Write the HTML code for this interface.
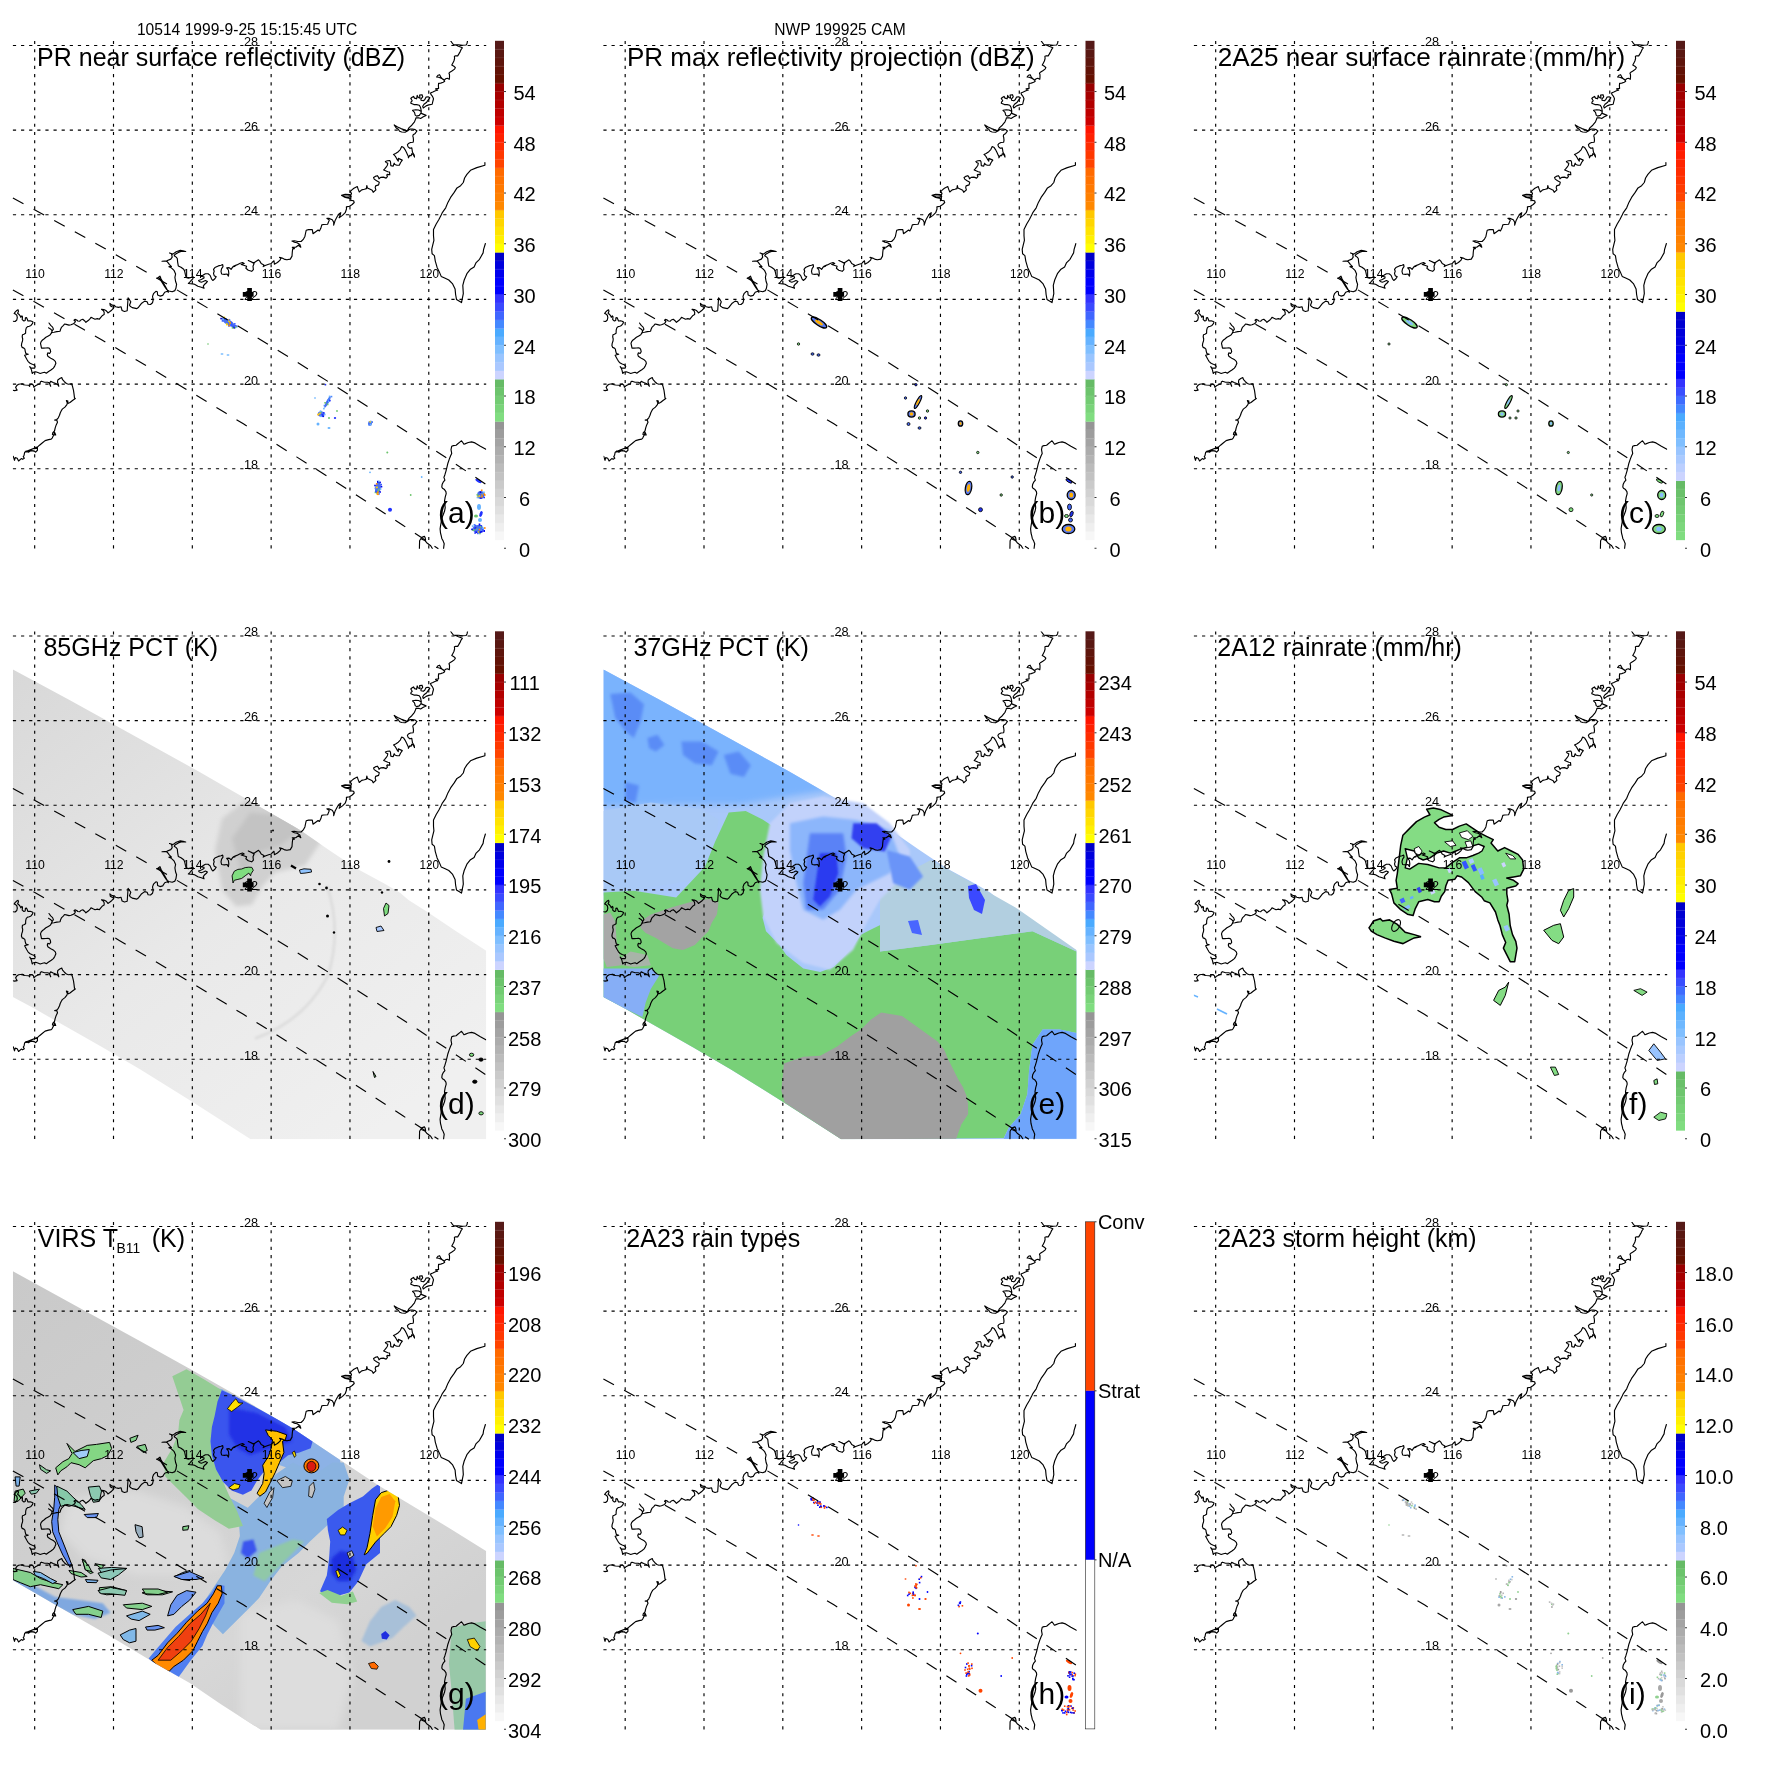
<!DOCTYPE html>
<html><head><meta charset="utf-8"><title>TRMM multi-panel</title><style>html,body{margin:0;padding:0;background:#fff;width:1771px;height:1771px;overflow:hidden}svg{display:block;will-change:transform}text{font-family:"Liberation Sans",sans-serif}</style></head><body>
<svg xmlns="http://www.w3.org/2000/svg" width="1771" height="1771" viewBox="0 0 1771 1771" font-family="Liberation Sans, sans-serif"><rect width="1771" height="1771" fill="#fff"/><defs><filter id="blur1" x="-50%" y="-50%" width="200%" height="200%"><feGaussianBlur stdDeviation="0.5"/></filter>
<filter id="blur2" x="-50%" y="-50%" width="200%" height="200%"><feGaussianBlur stdDeviation="1.0"/></filter>
<filter id="blur3" x="-50%" y="-50%" width="200%" height="200%"><feGaussianBlur stdDeviation="1.5"/></filter>
<filter id="blur4" x="-50%" y="-50%" width="200%" height="200%"><feGaussianBlur stdDeviation="2.0"/></filter>
<filter id="blur6" x="-50%" y="-50%" width="200%" height="200%"><feGaussianBlur stdDeviation="3.0"/></filter>
<filter id="blur8" x="-50%" y="-50%" width="200%" height="200%"><feGaussianBlur stdDeviation="4.0"/></filter>
<clipPath id="mapclip"><rect x="12.9" y="41" width="473.3" height="507.8"/></clipPath>
<g id="grid"><path d="M34.68 41V548.8M113.5 41V548.8M192.32 41V548.8M271.14 41V548.8M349.96 41V548.8M428.78 41V548.8" stroke="#000" stroke-width="1.15" stroke-dasharray="3.1 5.167" fill="none"/>
<path d="M12.9 45.45H486.2M12.9 130.11H486.2M12.9 214.77H486.2M12.9 299.43H486.2M12.9 384.09H486.2M12.9 468.75H486.2" stroke="#000" stroke-width="1.15" stroke-dasharray="3.2 4.92" fill="none"/></g>
<g id="glabels" font-family="Liberation Sans, sans-serif"><text x="35.08" y="278" font-size="12.7" text-anchor="middle" textLength="19.5" lengthAdjust="spacingAndGlyphs">110</text>
<text x="113.9" y="278" font-size="12.7" text-anchor="middle" textLength="19.5" lengthAdjust="spacingAndGlyphs">112</text>
<text x="192.72" y="278" font-size="12.7" text-anchor="middle" textLength="19.5" lengthAdjust="spacingAndGlyphs">114</text>
<text x="271.54" y="278" font-size="12.7" text-anchor="middle" textLength="19.5" lengthAdjust="spacingAndGlyphs">116</text>
<text x="350.36" y="278" font-size="12.7" text-anchor="middle" textLength="19.5" lengthAdjust="spacingAndGlyphs">118</text>
<text x="429.18" y="278" font-size="12.7" text-anchor="middle" textLength="19.5" lengthAdjust="spacingAndGlyphs">120</text>
<text x="251.1" y="45.9" font-size="12.7" text-anchor="middle">28</text>
<text x="251.1" y="130.56" font-size="12.7" text-anchor="middle">26</text>
<text x="251.1" y="215.22" font-size="12.7" text-anchor="middle">24</text>
<text x="251.1" y="299.88" font-size="12.7" text-anchor="middle">22</text>
<text x="251.1" y="384.54" font-size="12.7" text-anchor="middle">20</text>
<text x="251.1" y="469.2" font-size="12.7" text-anchor="middle">18</text></g>
<g id="marker"><path d="M247.2 288.1h4.7v3.9h1.7v4.8h-1.7v4.2h-4.7v-4.2h-4.4v-4.8h4.4z" fill="#000"/></g>
<g id="swath"><path d="M12.90 198.02L32.62 208.64L52.34 219.38L72.06 230.24L91.78 241.21L111.50 252.29L131.22 263.48L150.95 274.79L170.67 286.22L190.39 297.76L210.11 309.41L229.83 321.18L249.55 333.06L269.27 345.06L288.99 357.17L308.71 369.39L328.43 381.73L348.15 394.19L367.87 406.75L387.60 419.43L407.32 432.23L427.04 445.14L446.76 458.16L466.48 471.30L486.20 484.56M12.90 290.00L30.63 299.76L48.36 309.61L66.09 319.55L83.82 329.58L101.55 339.70L119.28 349.91L137.00 360.20L154.73 370.59L172.46 381.06L190.19 391.63L207.92 402.28L225.65 413.02L243.38 423.85L261.11 434.77L278.84 445.77L296.57 456.87L314.30 468.06L332.02 479.33L349.75 490.69L367.48 502.15L385.21 513.69L402.94 525.32L420.67 537.04L438.40 548.84" stroke="#000" stroke-width="1.15" stroke-dasharray="12 11.5" fill="none"/></g>
<g id="coast" clip-path="url(#mapclip)"><path d="M12.8 321.2L15.1 321.5L16.8 320.0L17.3 317.6L16.8 315.2L15.3 313.9L14.1 313.5L15.1 312.2L16.4 310.8L18.1 309.8L18.5 311.3L17.6 313.2L18.8 314.2L20.0 315.6L20.8 317.3L21.9 315.9L22.5 316.9L22.2 319.6L23.9 321.0L25.2 320.5L25.4 317.9L26.6 317.6L27.3 319.3L28.0 321.0L30.0 320.7L31.7 321.3L33.0 322.1L32.4 323.7L31.0 325.4L29.3 326.3L27.6 326.6L26.3 327.8L25.7 330.1L25.6 333.2L23.9 334.2L22.5 334.7L22.2 336.9L22.7 339.0L22.5 341.0L21.7 343.4L21.4 345.6L22.2 347.4L23.9 348.1L24.9 349.1L25.2 351.1L25.9 353.5L28.3 354.2L26.3 354.7L24.6 355.2L25.7 357.2L26.8 359.3L28.0 361.3L29.7 363.0L31.7 364.0L33.7 364.7L35.2 366.4L34.7 368.1L33.0 368.0L31.0 368.1L29.7 366.7L30.7 368.1L31.5 370.1L32.2 373.5L33.4 372.2L35.7 371.8L38.5 372.8L40.2 373.5L42.5 372.7L44.6 372.3L46.3 373.2L48.6 371.5L51.3 369.8L53.4 368.1L54.7 366.1L55.9 363.3L55.3 361.3L53.7 359.8L51.3 358.6L49.3 357.2L47.8 356.2L47.3 354.5L47.8 352.8L49.6 353.5L50.7 351.8L50.3 349.8L49.6 348.4L47.9 347.8L45.9 348.0L43.5 348.1L41.5 348.1L41.0 345.7L40.5 343.4L41.3 341.3L42.5 340.0L43.9 339.0L45.9 337.3L48.3 335.9L50.3 334.7L51.0 333.5L51.9 332.5L54.0 332.2L56.8 331.6L60.1 331.2L60.5 329.5L61.4 327.4L63.5 325.4L64.5 324.0L66.2 324.4L69.0 325.1L71.0 324.7L73.4 323.7L74.7 322.7L75.4 321.3L74.0 320.3L75.0 319.4L76.7 320.0L77.8 321.0L79.8 321.2L80.8 320.0L82.8 319.3L84.5 320.7L85.9 322.3L87.2 321.3L88.9 320.0L90.3 318.3L91.0 317.3L93.0 318.3L95.0 319.2L97.4 318.6L99.4 319.2L100.8 317.3L102.5 315.4L104.1 314.6L104.2 312.5L103.5 310.8L101.5 309.3L103.8 309.5L105.9 310.5L107.2 311.8L107.9 312.9L109.6 311.8L111.6 310.2L113.3 308.5L114.0 307.1L112.0 306.8L110.3 305.7L109.9 303.4L112.0 305.1L114.4 305.4L115.7 306.8L118.4 307.4L121.1 306.8L121.5 308.5L122.1 310.5L124.5 311.5L127.2 310.8L128.1 297.8L130.8 301.8L129.5 305.2L130.2 306.2L132.2 307.6L136.9 308.6L138.6 307.2L141.7 303.2L144.7 301.1L147.1 301.8L148.1 304.2L150.5 304.5L152.5 302.8L153.2 299.8L152.5 296.4L153.5 293.7L155.9 291.3L157.3 291.7L157.6 295.0L160.0 296.1L162.7 295.4L164.7 292.3L167.4 291.3L168.4 292.2L166.8 289.0L164.7 285.2L162.7 281.8L161.0 278.8L160.0 276.1L157.9 277.8L156.6 278.2L159.0 277.8L160.7 280.1L162.7 283.5L164.7 286.6L166.8 289.6L168.8 291.0L172.2 291.7L174.9 290.6L175.9 288.3L176.6 284.2L175.6 281.5L174.9 277.4L175.6 274.0L174.2 270.7L172.2 268.6L170.1 267.1L168.9 266.6L171.5 266.6L169.5 264.6L167.4 261.8L166.1 261.2L162.0 261.2L166.8 260.8L170.8 259.1L172.2 257.1L171.5 253.7L169.5 253.0L172.9 254.1L176.2 251.7L180.3 250.3L183.0 250.7L185.7 251.5L181.7 251.1L178.3 252.4L174.9 254.4L174.2 255.7L176.2 257.1L177.3 258.5L177.6 261.8L178.3 265.9L181.0 267.3L183.7 269.3L184.7 271.3L185.4 274.7L186.1 277.4L188.4 278.1L191.1 277.4L193.2 276.8L192.8 278.8L191.1 280.5L189.8 282.2L188.4 283.5L192.5 283.9L194.5 284.2L197.9 286.2L201.3 287.3L204.0 288.3L203.3 286.2L204.7 284.2L206.7 282.5L207.4 281.5L205.4 280.5L203.3 281.5L201.3 282.2L199.3 281.5L198.6 280.5L201.3 279.5L204.0 278.1L204.0 276.8L201.3 276.4L203.3 275.1L205.4 273.7L208.1 273.7L210.1 275.4L211.5 278.8L212.8 280.5L214.9 278.8L216.2 276.8L214.2 275.7L213.5 273.4L214.2 271.3L213.5 269.3L214.9 267.6L218.3 265.9L221.0 265.2L222.7 264.6L223.0 266.6L221.6 268.6L221.0 271.3L221.6 274.0L224.4 274.4L227.1 274.0L228.4 276.1L228.8 273.4L228.4 270.0L226.7 267.9L229.1 267.6L231.1 269.3L232.8 266.9L235.2 266.3L233.4 266.2L236.8 264.9L240.2 263.2L242.5 262.5L244.2 263.5L241.2 264.5L243.6 265.2L246.6 266.2L245.9 268.3L248.3 270.3L251.7 271.3L253.4 269.6L253.0 266.2L254.1 263.5L251.0 261.8L248.3 260.5L252.4 262.2L254.4 262.5L258.5 259.8L259.8 261.1L261.2 263.5L263.9 264.9L263.2 266.6L265.2 265.5L268.6 264.2L271.3 263.5L272.3 262.2L274.0 260.8L274.4 264.2L277.4 262.5L280.1 260.1L280.8 258.1L279.5 257.4L282.2 258.1L284.9 259.4L286.9 259.8L290.3 259.1L292.0 256.1L292.3 252.0L292.7 248.9L294.4 248.6L292.3 247.2L295.7 247.2L298.4 245.2L300.8 247.2L299.8 244.5L297.1 242.8L294.4 242.2L292.0 241.1L294.4 240.8L297.8 241.5L301.1 241.5L303.5 239.1L304.9 236.4L305.6 233.0L306.2 230.3L308.6 229.6L312.3 229.6L313.0 233.7L315.4 232.0L318.1 230.0L319.4 231.0L320.8 228.3L321.8 224.9L323.5 224.5L327.6 224.2L329.3 220.1L326.9 218.4L328.9 218.4L332.3 219.8L333.7 222.2L333.7 225.2L335.0 220.8L337.1 216.8L339.1 213.7L340.8 212.7L339.8 216.1L339.1 217.8L342.5 215.4L345.2 212.7L346.5 209.0L346.4 206.9L349.5 206.2L352.2 204.5L354.2 202.5L353.6 200.8L350.8 200.4L350.8 197.7L351.2 196.4L348.8 197.1L345.4 196.7L342.0 195.7L344.1 194.7L347.5 195.0L350.8 195.4L351.5 193.3L350.2 191.6L351.9 189.9L353.9 188.3L357.3 186.6L358.3 189.6L359.3 192.0L361.7 189.9L364.4 189.3L366.4 188.6L366.8 185.5L367.4 187.9L370.2 189.3L372.2 190.3L373.2 192.3L375.9 189.9L375.2 187.6L375.6 185.9L378.6 184.9L379.3 182.2L376.6 180.8L374.2 179.1L373.5 177.4L375.2 176.4L377.3 175.7L378.6 177.4L379.0 178.8L380.7 177.4L383.4 177.1L386.1 178.1L387.4 176.7L386.8 175.0L387.4 174.4L389.8 174.7L389.5 172.0L387.8 171.7L386.1 171.0L383.7 170.0L384.7 168.9L386.1 167.2L387.4 165.2L387.8 163.2L386.1 162.5L385.4 161.5L387.4 160.8L389.8 160.5L390.5 161.8L390.8 165.6L393.2 166.2L393.9 163.9L394.2 163.2L394.9 164.5L396.9 165.2L399.3 165.2L400.6 162.5L402.3 160.1L400.0 159.1L398.3 158.4L398.3 161.1L396.9 159.1L395.6 156.7L394.2 155.0L393.5 154.4L395.6 153.4L398.3 151.7L400.3 149.6L401.7 146.6L403.7 147.6L405.0 149.6L406.4 152.3L407.4 154.4L408.4 156.4L408.4 157.8L409.8 155.4L411.1 155.7L411.8 153.7L413.2 154.4L414.5 157.1L414.2 155.0L412.5 152.3L412.2 150.3L411.8 147.9L409.8 148.3L408.1 146.9L407.4 144.9L408.4 143.5L410.5 142.5L413.2 142.2L413.5 140.1L413.2 137.4L412.8 136.1L413.2 134.7L415.2 133.4L416.9 131.0L415.2 129.6L412.5 129.0L410.5 129.0L409.1 129.6L407.8 130.7L405.0 132.3L401.7 132.0L399.6 131.3L398.3 129.3L396.2 127.9L394.2 124.9L397.6 126.9L401.0 128.6L403.7 129.6L406.4 130.7L407.8 130.0L408.8 127.9L411.8 125.2L414.5 121.8L415.6 119.1L415.9 117.8L418.6 117.8L420.6 118.5L423.3 116.8L426.1 115.4L421.3 113.4L421.0 111.3L418.6 110.0L415.9 109.7L412.5 110.3L414.5 112.4L415.2 115.1L416.6 116.1L419.3 115.4L421.0 113.0L421.3 111.0L420.6 107.6L419.3 105.2L416.6 104.6L413.9 104.6L410.8 103.2L411.1 101.9L412.2 100.8L410.8 98.5L411.8 97.5L413.5 96.4L414.5 98.1L416.6 98.8L417.2 95.4L418.3 97.5L420.0 98.1L419.6 95.1L422.0 94.7L422.7 96.8L421.0 98.8L421.0 100.2L423.3 100.8L424.7 99.8L426.1 97.1L428.1 96.8L429.8 97.8L428.1 100.2L426.7 102.2L424.0 104.2L422.7 106.3L423.3 108.0L426.1 105.9L428.8 104.9L432.2 104.2L432.8 101.5L433.5 98.8L432.5 96.4L431.1 94.7L430.5 93.0L432.8 92.0L434.9 91.0L437.6 90.0L437.6 90.2L435.6 88.9L438.6 88.4L438.4 85.9L438.6 83.4L440.7 83.1L443.2 82.3L444.7 81.3L444.2 80.3L442.2 78.8L440.7 76.8L439.6 74.7L438.1 75.2L436.6 77.0L438.6 77.3L441.2 78.3L443.2 79.3L444.2 80.1L445.7 78.8L447.3 78.3L449.3 79.3L449.5 77.3L449.5 74.7L449.0 73.2L450.3 71.9L452.3 70.7L454.6 69.1L455.4 67.6L453.9 66.3L451.8 65.1L452.9 63.0L453.9 61.0L454.6 58.5L454.4 56.2L455.9 55.7L457.7 55.9L458.9 53.9L460.2 51.6L461.2 49.3L462.3 47.8L460.5 47.0L458.4 46.3L456.9 45.5L455.4 45.0L453.4 44.5L452.3 43.2L450.6 40.7M49.0 323.0L50.7 325.4L52.6 327.1L53.4 329.1L52.3 330.8L51.5 332.5M48.5 327.8L50.5 328.9L52.0 330.7M341.5 195.4L345.2 194.3L350.0 194.5M342.5 196.1L345.2 197.4L350.0 198.5M453.4 44.5L458.4 44.8L462.5 45.2L466.1 45.0L467.1 43.2L467.6 40.4M12.8 390.3L14.6 390.6L17.1 390.1L16.1 388.3L15.6 387.3L17.1 385.2L18.6 384.2L22.2 383.7L23.5 384.7L25.2 385.0L28.8 385.2L29.6 386.3L30.1 384.2L31.9 384.0L33.4 385.2L33.9 387.3L35.4 385.8L38.5 384.2L40.0 383.7L40.5 381.7L41.5 381.2L44.6 382.2L47.6 382.2L49.1 382.7L50.7 386.3L49.6 383.2L50.7 381.4L53.2 382.5L55.7 383.5L57.8 384.7L58.8 386.3L58.3 384.2L57.5 382.2L57.8 379.9L59.8 378.6L61.8 377.6L62.6 379.7L64.4 381.7L66.4 383.5L68.4 384.2L71.5 383.7L72.5 386.3L73.5 390.3L74.0 393.9L74.5 397.9L75.3 398.5L72.5 400.5L70.0 402.5L68.4 403.3L66.9 402.0L66.4 400.5L67.9 401.0L66.9 404.6L64.9 407.1L62.3 409.1L61.3 410.7L60.3 412.7L59.5 415.2L58.3 417.8L56.8 419.5L54.7 420.1L56.8 420.3L57.5 422.3L56.2 424.9L55.2 427.9L54.5 431.0L52.7 433.0L52.4 434.5L54.7 435.0L55.7 435.0L54.7 432.5L53.7 435.0L52.2 438.1L51.2 439.1L48.6 439.6L45.1 440.6L42.5 442.7L39.5 445.2L37.4 447.2L37.4 450.3L35.9 451.8L33.9 451.3L31.9 450.5L29.3 451.3L26.8 451.8L25.2 451.8L37.2 447.1L37.5 450.2L35.5 452.2L34.1 450.8L30.7 450.8L28.4 452.2L26.0 451.2L24.6 452.5L24.1 455.2L23.3 456.6L24.3 458.3L22.6 459.3L21.3 458.6L18.6 461.0L17.2 458.3L15.2 457.6L14.5 460.3L13.3 456.3M484.9 162.6L484.9 165.3L476.8 167.6L470.5 170.3L466.9 174.4L464.6 178.0L463.3 182.5L460.6 185.7L457.0 187.9L454.2 192.4L450.6 197.4L447.9 202.4L445.7 207.8L442.5 212.3L441.2 215.0L438.9 219.5L436.2 224.0L433.5 229.5L433.5 235.8L433.9 240.3L432.6 245.7L431.7 249.3L432.1 253.8L434.4 255.6L435.3 261.1L437.1 267.4L439.3 271.9L441.2 276.4L445.2 278.2L448.8 280.0L452.4 283.6L455.1 289.1L455.6 294.5L456.5 299.4L461.5 302.6L462.4 298.1L463.3 293.6L462.8 285.4L464.2 280.0L466.9 273.7L470.5 269.2L474.1 266.9L475.9 262.9L479.5 259.3L483.1 252.9L483.6 249.3L485.4 243.5M485.9 449.3L480.4 446.3L475.0 442.9L471.6 441.9L468.3 442.5L464.9 443.9L463.9 444.2L462.8 442.5L461.5 440.8L460.1 441.9L458.1 443.5L456.1 445.2L453.4 445.6L451.7 446.3L451.0 449.6L451.7 453.4L450.6 455.7L449.3 459.1L447.9 463.2L446.9 467.3L445.9 471.3L444.9 474.7L443.9 477.4L444.9 480.1L443.2 482.2L442.2 484.2L441.8 486.9L442.5 488.3L444.5 489.6L445.9 491.6L446.2 493.7L445.2 497.1L444.5 501.1L444.9 504.5L445.2 507.9L444.5 511.3L443.2 514.7L441.8 518.1L441.2 522.1L440.5 526.2L440.1 528.9L440.5 533.0L441.2 535.7L441.8 538.4L443.2 541.1L444.2 543.8L443.9 545.8L443.5 549.2M419.4 548.8L419.6 540.7L420.8 538.8L421.8 537.4L424.4 536.4L425.2 537.8L425.6 540.2M421.4 539.0L424.8 540.4L426.7 542.7L428.7 544.3L430.7 545.7L432.5 548.8" fill="none" stroke="#000" stroke-width="1.15" stroke-linejoin="round" stroke-linecap="round"/></g>
<g id="cbA"><rect x="495" y="531.34" width="9" height="8.81" fill="#f7f7f7"/><rect x="495" y="522.88" width="9" height="8.81" fill="#efefef"/><rect x="495" y="514.43" width="9" height="8.81" fill="#e8e8e8"/><rect x="495" y="505.97" width="9" height="8.81" fill="#e0e0e0"/><rect x="495" y="497.51" width="9" height="8.81" fill="#d9d9d9"/><rect x="495" y="489.05" width="9" height="8.81" fill="#d1d1d1"/><rect x="495" y="480.6" width="9" height="8.81" fill="#cacaca"/><rect x="495" y="472.14" width="9" height="8.81" fill="#c2c2c2"/><rect x="495" y="463.68" width="9" height="8.81" fill="#bbbbbb"/><rect x="495" y="455.22" width="9" height="8.81" fill="#b3b3b3"/><rect x="495" y="446.77" width="9" height="8.81" fill="#acacac"/><rect x="495" y="438.31" width="9" height="8.81" fill="#a4a4a4"/><rect x="495" y="429.85" width="9" height="8.81" fill="#9d9d9d"/><rect x="495" y="421.39" width="9" height="8.81" fill="#959595"/><rect x="495" y="412.94" width="9" height="8.81" fill="#80dd80"/><rect x="495" y="404.48" width="9" height="8.81" fill="#7ad47a"/><rect x="495" y="396.02" width="9" height="8.81" fill="#73cc73"/><rect x="495" y="387.56" width="9" height="8.81" fill="#6cc46c"/><rect x="495" y="379.11" width="9" height="8.81" fill="#66bb66"/><rect x="495" y="370.65" width="9" height="8.81" fill="#ccd4ff"/><rect x="495" y="362.19" width="9" height="8.81" fill="#aac8ff"/><rect x="495" y="353.73" width="9" height="8.81" fill="#99c5ff"/><rect x="495" y="345.27" width="9" height="8.81" fill="#80bfff"/><rect x="495" y="336.82" width="9" height="8.81" fill="#66b3ff"/><rect x="495" y="328.36" width="9" height="8.81" fill="#4aaaff"/><rect x="495" y="319.9" width="9" height="8.81" fill="#4488ff"/><rect x="495" y="311.44" width="9" height="8.81" fill="#4066ff"/><rect x="495" y="302.99" width="9" height="8.81" fill="#3a4aff"/><rect x="495" y="294.53" width="9" height="8.81" fill="#3333ff"/><rect x="495" y="286.07" width="9" height="8.81" fill="#0000ff"/><rect x="495" y="277.61" width="9" height="8.81" fill="#0000ff"/><rect x="495" y="269.16" width="9" height="8.81" fill="#0000ee"/><rect x="495" y="260.7" width="9" height="8.81" fill="#0000dd"/><rect x="495" y="252.24" width="9" height="8.81" fill="#0000c8"/><rect x="495" y="243.78" width="9" height="8.81" fill="#ffff00"/><rect x="495" y="235.33" width="9" height="8.81" fill="#fff100"/><rect x="495" y="226.87" width="9" height="8.81" fill="#ffe400"/><rect x="495" y="218.41" width="9" height="8.81" fill="#ffd600"/><rect x="495" y="209.95" width="9" height="8.81" fill="#ffc800"/><rect x="495" y="201.49" width="9" height="8.81" fill="#ff8800"/><rect x="495" y="193.04" width="9" height="8.81" fill="#ff8000"/><rect x="495" y="184.58" width="9" height="8.81" fill="#ff7900"/><rect x="495" y="176.12" width="9" height="8.81" fill="#ff7200"/><rect x="495" y="167.66" width="9" height="8.81" fill="#ff6a00"/><rect x="495" y="159.21" width="9" height="8.81" fill="#ff4400"/><rect x="495" y="150.75" width="9" height="8.81" fill="#ff3800"/><rect x="495" y="142.29" width="9" height="8.81" fill="#ff2c00"/><rect x="495" y="133.83" width="9" height="8.81" fill="#ff2100"/><rect x="495" y="125.38" width="9" height="8.81" fill="#ff1500"/><rect x="495" y="116.92" width="9" height="8.81" fill="#cc0000"/><rect x="495" y="108.46" width="9" height="8.81" fill="#bf0000"/><rect x="495" y="100" width="9" height="8.81" fill="#b20000"/><rect x="495" y="91.55" width="9" height="8.81" fill="#a60000"/><rect x="495" y="83.09" width="9" height="8.81" fill="#990000"/><rect x="495" y="74.63" width="9" height="8.81" fill="#661000"/><rect x="495" y="66.17" width="9" height="8.81" fill="#621206"/><rect x="495" y="57.72" width="9" height="8.81" fill="#5e150c"/><rect x="495" y="49.26" width="9" height="8.81" fill="#591812"/><rect x="495" y="40.8" width="9" height="8.81" fill="#551a18"/><path d="M495 531.34H504" stroke="#fff" stroke-opacity="0.13" stroke-width="0.7"/><path d="M495 522.88H504" stroke="#fff" stroke-opacity="0.13" stroke-width="0.7"/><path d="M495 514.43H504" stroke="#fff" stroke-opacity="0.13" stroke-width="0.7"/><path d="M495 505.97H504" stroke="#fff" stroke-opacity="0.13" stroke-width="0.7"/><path d="M495 497.51H504" stroke="#fff" stroke-opacity="0.13" stroke-width="0.7"/><path d="M495 489.05H504" stroke="#fff" stroke-opacity="0.13" stroke-width="0.7"/><path d="M495 480.6H504" stroke="#fff" stroke-opacity="0.13" stroke-width="0.7"/><path d="M495 472.14H504" stroke="#fff" stroke-opacity="0.13" stroke-width="0.7"/><path d="M495 463.68H504" stroke="#fff" stroke-opacity="0.13" stroke-width="0.7"/><path d="M495 455.22H504" stroke="#fff" stroke-opacity="0.13" stroke-width="0.7"/><path d="M495 446.77H504" stroke="#fff" stroke-opacity="0.13" stroke-width="0.7"/><path d="M495 438.31H504" stroke="#fff" stroke-opacity="0.13" stroke-width="0.7"/><path d="M495 429.85H504" stroke="#fff" stroke-opacity="0.13" stroke-width="0.7"/><path d="M495 421.39H504" stroke="#fff" stroke-opacity="0.13" stroke-width="0.7"/><path d="M495 412.94H504" stroke="#fff" stroke-opacity="0.13" stroke-width="0.7"/><path d="M495 404.48H504" stroke="#fff" stroke-opacity="0.13" stroke-width="0.7"/><path d="M495 396.02H504" stroke="#fff" stroke-opacity="0.13" stroke-width="0.7"/><path d="M495 387.56H504" stroke="#fff" stroke-opacity="0.13" stroke-width="0.7"/><path d="M495 379.11H504" stroke="#fff" stroke-opacity="0.13" stroke-width="0.7"/><path d="M495 370.65H504" stroke="#fff" stroke-opacity="0.13" stroke-width="0.7"/><path d="M495 362.19H504" stroke="#fff" stroke-opacity="0.13" stroke-width="0.7"/><path d="M495 353.73H504" stroke="#fff" stroke-opacity="0.13" stroke-width="0.7"/><path d="M495 345.27H504" stroke="#fff" stroke-opacity="0.13" stroke-width="0.7"/><path d="M495 336.82H504" stroke="#fff" stroke-opacity="0.13" stroke-width="0.7"/><path d="M495 328.36H504" stroke="#fff" stroke-opacity="0.13" stroke-width="0.7"/><path d="M495 319.9H504" stroke="#fff" stroke-opacity="0.13" stroke-width="0.7"/><path d="M495 311.44H504" stroke="#fff" stroke-opacity="0.13" stroke-width="0.7"/><path d="M495 302.99H504" stroke="#fff" stroke-opacity="0.13" stroke-width="0.7"/><path d="M495 294.53H504" stroke="#fff" stroke-opacity="0.13" stroke-width="0.7"/><path d="M495 286.07H504" stroke="#fff" stroke-opacity="0.13" stroke-width="0.7"/><path d="M495 277.61H504" stroke="#fff" stroke-opacity="0.13" stroke-width="0.7"/><path d="M495 269.16H504" stroke="#fff" stroke-opacity="0.13" stroke-width="0.7"/><path d="M495 260.7H504" stroke="#fff" stroke-opacity="0.13" stroke-width="0.7"/><path d="M495 252.24H504" stroke="#fff" stroke-opacity="0.13" stroke-width="0.7"/><path d="M495 243.78H504" stroke="#fff" stroke-opacity="0.13" stroke-width="0.7"/><path d="M495 235.33H504" stroke="#fff" stroke-opacity="0.13" stroke-width="0.7"/><path d="M495 226.87H504" stroke="#fff" stroke-opacity="0.13" stroke-width="0.7"/><path d="M495 218.41H504" stroke="#fff" stroke-opacity="0.13" stroke-width="0.7"/><path d="M495 209.95H504" stroke="#fff" stroke-opacity="0.13" stroke-width="0.7"/><path d="M495 201.49H504" stroke="#fff" stroke-opacity="0.13" stroke-width="0.7"/><path d="M495 193.04H504" stroke="#fff" stroke-opacity="0.13" stroke-width="0.7"/><path d="M495 184.58H504" stroke="#fff" stroke-opacity="0.13" stroke-width="0.7"/><path d="M495 176.12H504" stroke="#fff" stroke-opacity="0.13" stroke-width="0.7"/><path d="M495 167.66H504" stroke="#fff" stroke-opacity="0.13" stroke-width="0.7"/><path d="M495 159.21H504" stroke="#fff" stroke-opacity="0.13" stroke-width="0.7"/><path d="M495 150.75H504" stroke="#fff" stroke-opacity="0.13" stroke-width="0.7"/><path d="M495 142.29H504" stroke="#fff" stroke-opacity="0.13" stroke-width="0.7"/><path d="M495 133.83H504" stroke="#fff" stroke-opacity="0.13" stroke-width="0.7"/><path d="M495 125.38H504" stroke="#fff" stroke-opacity="0.13" stroke-width="0.7"/><path d="M495 116.92H504" stroke="#fff" stroke-opacity="0.13" stroke-width="0.7"/><path d="M495 108.46H504" stroke="#fff" stroke-opacity="0.13" stroke-width="0.7"/><path d="M495 100H504" stroke="#fff" stroke-opacity="0.13" stroke-width="0.7"/><path d="M495 91.55H504" stroke="#fff" stroke-opacity="0.13" stroke-width="0.7"/><path d="M495 83.09H504" stroke="#fff" stroke-opacity="0.13" stroke-width="0.7"/><path d="M495 74.63H504" stroke="#fff" stroke-opacity="0.13" stroke-width="0.7"/><path d="M495 66.17H504" stroke="#fff" stroke-opacity="0.13" stroke-width="0.7"/><path d="M495 57.72H504" stroke="#fff" stroke-opacity="0.13" stroke-width="0.7"/><path d="M495 49.26H504" stroke="#fff" stroke-opacity="0.13" stroke-width="0.7"/><path d="M504 548.26h2" stroke="#333" stroke-width="1"/><path d="M504 497.51h2" stroke="#333" stroke-width="1"/><path d="M504 446.77h2" stroke="#333" stroke-width="1"/><path d="M504 396.02h2" stroke="#333" stroke-width="1"/><path d="M504 345.27h2" stroke="#333" stroke-width="1"/><path d="M504 294.53h2" stroke="#333" stroke-width="1"/><path d="M504 243.78h2" stroke="#333" stroke-width="1"/><path d="M504 193.04h2" stroke="#333" stroke-width="1"/><path d="M504 142.29h2" stroke="#333" stroke-width="1"/><path d="M504 91.55h2" stroke="#333" stroke-width="1"/></g>
<g id="cbC"><rect x="495" y="531.34" width="9" height="8.81" fill="#80dd80"/><rect x="495" y="522.88" width="9" height="8.81" fill="#7cd77c"/><rect x="495" y="514.43" width="9" height="8.81" fill="#77d277"/><rect x="495" y="505.97" width="9" height="8.81" fill="#73cc73"/><rect x="495" y="497.51" width="9" height="8.81" fill="#6fc66f"/><rect x="495" y="489.05" width="9" height="8.81" fill="#6ac16a"/><rect x="495" y="480.6" width="9" height="8.81" fill="#66bb66"/><rect x="495" y="472.14" width="9" height="8.81" fill="#ccd4ff"/><rect x="495" y="463.68" width="9" height="8.81" fill="#bbcfff"/><rect x="495" y="455.22" width="9" height="8.81" fill="#aacaff"/><rect x="495" y="446.77" width="9" height="8.81" fill="#99c5ff"/><rect x="495" y="438.31" width="9" height="8.81" fill="#80bfff"/><rect x="495" y="429.85" width="9" height="8.81" fill="#6eb8ff"/><rect x="495" y="421.39" width="9" height="8.81" fill="#5cb1ff"/><rect x="495" y="412.94" width="9" height="8.81" fill="#4aaaff"/><rect x="495" y="404.48" width="9" height="8.81" fill="#4488ff"/><rect x="495" y="396.02" width="9" height="8.81" fill="#3e6cff"/><rect x="495" y="387.56" width="9" height="8.81" fill="#394fff"/><rect x="495" y="379.11" width="9" height="8.81" fill="#3333ff"/><rect x="495" y="370.65" width="9" height="8.81" fill="#0000ff"/><rect x="495" y="362.19" width="9" height="8.81" fill="#0000ff"/><rect x="495" y="353.73" width="9" height="8.81" fill="#0000ff"/><rect x="495" y="345.27" width="9" height="8.81" fill="#0000ee"/><rect x="495" y="336.82" width="9" height="8.81" fill="#0000e4"/><rect x="495" y="328.36" width="9" height="8.81" fill="#0000db"/><rect x="495" y="319.9" width="9" height="8.81" fill="#0000d2"/><rect x="495" y="311.44" width="9" height="8.81" fill="#0000c8"/><rect x="495" y="302.99" width="9" height="8.81" fill="#ffff00"/><rect x="495" y="294.53" width="9" height="8.81" fill="#fff600"/><rect x="495" y="286.07" width="9" height="8.81" fill="#ffed00"/><rect x="495" y="277.61" width="9" height="8.81" fill="#ffe400"/><rect x="495" y="269.16" width="9" height="8.81" fill="#ffda00"/><rect x="495" y="260.7" width="9" height="8.81" fill="#ffd100"/><rect x="495" y="252.24" width="9" height="8.81" fill="#ffc800"/><rect x="495" y="243.78" width="9" height="8.81" fill="#ff8800"/><rect x="495" y="235.33" width="9" height="8.81" fill="#ff8200"/><rect x="495" y="226.87" width="9" height="8.81" fill="#ff7c00"/><rect x="495" y="218.41" width="9" height="8.81" fill="#ff7600"/><rect x="495" y="209.95" width="9" height="8.81" fill="#ff7000"/><rect x="495" y="201.49" width="9" height="8.81" fill="#ff6a00"/><rect x="495" y="193.04" width="9" height="8.81" fill="#ff4400"/><rect x="495" y="184.58" width="9" height="8.81" fill="#ff3c00"/><rect x="495" y="176.12" width="9" height="8.81" fill="#ff3400"/><rect x="495" y="167.66" width="9" height="8.81" fill="#ff2c00"/><rect x="495" y="159.21" width="9" height="8.81" fill="#ff2500"/><rect x="495" y="150.75" width="9" height="8.81" fill="#ff1d00"/><rect x="495" y="142.29" width="9" height="8.81" fill="#ff1500"/><rect x="495" y="133.83" width="9" height="8.81" fill="#cc0000"/><rect x="495" y="125.38" width="9" height="8.81" fill="#c40000"/><rect x="495" y="116.92" width="9" height="8.81" fill="#bb0000"/><rect x="495" y="108.46" width="9" height="8.81" fill="#b20000"/><rect x="495" y="100" width="9" height="8.81" fill="#aa0000"/><rect x="495" y="91.55" width="9" height="8.81" fill="#a20000"/><rect x="495" y="83.09" width="9" height="8.81" fill="#990000"/><rect x="495" y="74.63" width="9" height="8.81" fill="#661000"/><rect x="495" y="66.17" width="9" height="8.81" fill="#621206"/><rect x="495" y="57.72" width="9" height="8.81" fill="#5e150c"/><rect x="495" y="49.26" width="9" height="8.81" fill="#591812"/><rect x="495" y="40.8" width="9" height="8.81" fill="#551a18"/><path d="M495 531.34H504" stroke="#fff" stroke-opacity="0.13" stroke-width="0.7"/><path d="M495 522.88H504" stroke="#fff" stroke-opacity="0.13" stroke-width="0.7"/><path d="M495 514.43H504" stroke="#fff" stroke-opacity="0.13" stroke-width="0.7"/><path d="M495 505.97H504" stroke="#fff" stroke-opacity="0.13" stroke-width="0.7"/><path d="M495 497.51H504" stroke="#fff" stroke-opacity="0.13" stroke-width="0.7"/><path d="M495 489.05H504" stroke="#fff" stroke-opacity="0.13" stroke-width="0.7"/><path d="M495 480.6H504" stroke="#fff" stroke-opacity="0.13" stroke-width="0.7"/><path d="M495 472.14H504" stroke="#fff" stroke-opacity="0.13" stroke-width="0.7"/><path d="M495 463.68H504" stroke="#fff" stroke-opacity="0.13" stroke-width="0.7"/><path d="M495 455.22H504" stroke="#fff" stroke-opacity="0.13" stroke-width="0.7"/><path d="M495 446.77H504" stroke="#fff" stroke-opacity="0.13" stroke-width="0.7"/><path d="M495 438.31H504" stroke="#fff" stroke-opacity="0.13" stroke-width="0.7"/><path d="M495 429.85H504" stroke="#fff" stroke-opacity="0.13" stroke-width="0.7"/><path d="M495 421.39H504" stroke="#fff" stroke-opacity="0.13" stroke-width="0.7"/><path d="M495 412.94H504" stroke="#fff" stroke-opacity="0.13" stroke-width="0.7"/><path d="M495 404.48H504" stroke="#fff" stroke-opacity="0.13" stroke-width="0.7"/><path d="M495 396.02H504" stroke="#fff" stroke-opacity="0.13" stroke-width="0.7"/><path d="M495 387.56H504" stroke="#fff" stroke-opacity="0.13" stroke-width="0.7"/><path d="M495 379.11H504" stroke="#fff" stroke-opacity="0.13" stroke-width="0.7"/><path d="M495 370.65H504" stroke="#fff" stroke-opacity="0.13" stroke-width="0.7"/><path d="M495 362.19H504" stroke="#fff" stroke-opacity="0.13" stroke-width="0.7"/><path d="M495 353.73H504" stroke="#fff" stroke-opacity="0.13" stroke-width="0.7"/><path d="M495 345.27H504" stroke="#fff" stroke-opacity="0.13" stroke-width="0.7"/><path d="M495 336.82H504" stroke="#fff" stroke-opacity="0.13" stroke-width="0.7"/><path d="M495 328.36H504" stroke="#fff" stroke-opacity="0.13" stroke-width="0.7"/><path d="M495 319.9H504" stroke="#fff" stroke-opacity="0.13" stroke-width="0.7"/><path d="M495 311.44H504" stroke="#fff" stroke-opacity="0.13" stroke-width="0.7"/><path d="M495 302.99H504" stroke="#fff" stroke-opacity="0.13" stroke-width="0.7"/><path d="M495 294.53H504" stroke="#fff" stroke-opacity="0.13" stroke-width="0.7"/><path d="M495 286.07H504" stroke="#fff" stroke-opacity="0.13" stroke-width="0.7"/><path d="M495 277.61H504" stroke="#fff" stroke-opacity="0.13" stroke-width="0.7"/><path d="M495 269.16H504" stroke="#fff" stroke-opacity="0.13" stroke-width="0.7"/><path d="M495 260.7H504" stroke="#fff" stroke-opacity="0.13" stroke-width="0.7"/><path d="M495 252.24H504" stroke="#fff" stroke-opacity="0.13" stroke-width="0.7"/><path d="M495 243.78H504" stroke="#fff" stroke-opacity="0.13" stroke-width="0.7"/><path d="M495 235.33H504" stroke="#fff" stroke-opacity="0.13" stroke-width="0.7"/><path d="M495 226.87H504" stroke="#fff" stroke-opacity="0.13" stroke-width="0.7"/><path d="M495 218.41H504" stroke="#fff" stroke-opacity="0.13" stroke-width="0.7"/><path d="M495 209.95H504" stroke="#fff" stroke-opacity="0.13" stroke-width="0.7"/><path d="M495 201.49H504" stroke="#fff" stroke-opacity="0.13" stroke-width="0.7"/><path d="M495 193.04H504" stroke="#fff" stroke-opacity="0.13" stroke-width="0.7"/><path d="M495 184.58H504" stroke="#fff" stroke-opacity="0.13" stroke-width="0.7"/><path d="M495 176.12H504" stroke="#fff" stroke-opacity="0.13" stroke-width="0.7"/><path d="M495 167.66H504" stroke="#fff" stroke-opacity="0.13" stroke-width="0.7"/><path d="M495 159.21H504" stroke="#fff" stroke-opacity="0.13" stroke-width="0.7"/><path d="M495 150.75H504" stroke="#fff" stroke-opacity="0.13" stroke-width="0.7"/><path d="M495 142.29H504" stroke="#fff" stroke-opacity="0.13" stroke-width="0.7"/><path d="M495 133.83H504" stroke="#fff" stroke-opacity="0.13" stroke-width="0.7"/><path d="M495 125.38H504" stroke="#fff" stroke-opacity="0.13" stroke-width="0.7"/><path d="M495 116.92H504" stroke="#fff" stroke-opacity="0.13" stroke-width="0.7"/><path d="M495 108.46H504" stroke="#fff" stroke-opacity="0.13" stroke-width="0.7"/><path d="M495 100H504" stroke="#fff" stroke-opacity="0.13" stroke-width="0.7"/><path d="M495 91.55H504" stroke="#fff" stroke-opacity="0.13" stroke-width="0.7"/><path d="M495 83.09H504" stroke="#fff" stroke-opacity="0.13" stroke-width="0.7"/><path d="M495 74.63H504" stroke="#fff" stroke-opacity="0.13" stroke-width="0.7"/><path d="M495 66.17H504" stroke="#fff" stroke-opacity="0.13" stroke-width="0.7"/><path d="M495 57.72H504" stroke="#fff" stroke-opacity="0.13" stroke-width="0.7"/><path d="M495 49.26H504" stroke="#fff" stroke-opacity="0.13" stroke-width="0.7"/><path d="M504 548.26h2" stroke="#333" stroke-width="1"/><path d="M504 497.51h2" stroke="#333" stroke-width="1"/><path d="M504 446.77h2" stroke="#333" stroke-width="1"/><path d="M504 396.02h2" stroke="#333" stroke-width="1"/><path d="M504 345.27h2" stroke="#333" stroke-width="1"/><path d="M504 294.53h2" stroke="#333" stroke-width="1"/><path d="M504 243.78h2" stroke="#333" stroke-width="1"/><path d="M504 193.04h2" stroke="#333" stroke-width="1"/><path d="M504 142.29h2" stroke="#333" stroke-width="1"/><path d="M504 91.55h2" stroke="#333" stroke-width="1"/></g></defs>
<text x="136.9" y="34.9" font-size="15.6" textLength="220.39" lengthAdjust="spacingAndGlyphs">10514 1999-9-25 15:15:45 UTC</text>
<text x="840" y="34.9" font-size="15.6" text-anchor="middle">NWP 199925 CAM</text>
<g transform="translate(0 0)">
<g clip-path="url(#mapclip)"><ellipse cx="228.5" cy="322.5" rx="8.0" ry="2.6" fill="#4a70f0" transform="rotate(33 228.5 322.5)"/><rect x="232.6" y="326.8" width="1.6" height="1.6" fill="#6cc46c"/><rect x="226.0" y="323.8" width="1.6" height="1.6" fill="#ffdd00"/><rect x="236.0" y="326.0" width="1.6" height="1.6" fill="#66b3ff"/><rect x="228.5" y="320.6" width="1.6" height="1.6" fill="#2233ff"/><rect x="230.6" y="321.7" width="1.6" height="1.6" fill="#3355ff"/><rect x="235.1" y="325.1" width="1.6" height="1.6" fill="#2233ff"/><rect x="233.7" y="327.0" width="1.6" height="1.6" fill="#0000cc"/><rect x="229.2" y="321.6" width="1.6" height="1.6" fill="#ff8800"/><rect x="228.1" y="325.1" width="1.6" height="1.6" fill="#3355ff"/><rect x="226.0" y="323.4" width="1.6" height="1.6" fill="#ffdd00"/><rect x="232.7" y="326.5" width="1.6" height="1.6" fill="#0000ee"/><rect x="228.4" y="324.7" width="1.6" height="1.6" fill="#ff8800"/><rect x="224.0" y="318.0" width="1.6" height="1.6" fill="#2233ff"/><rect x="222.3" y="318.7" width="1.6" height="1.6" fill="#66b3ff"/><rect x="234.0" y="323.1" width="1.6" height="1.6" fill="#3355ff"/><rect x="228.3" y="318.9" width="1.6" height="1.6" fill="#ff8800"/><rect x="228.2" y="320.5" width="1.6" height="1.6" fill="#ffdd00"/><rect x="231.0" y="324.2" width="1.6" height="1.6" fill="#3355ff"/><rect x="221.7" y="320.1" width="1.6" height="1.6" fill="#3355ff"/><rect x="229.4" y="322.4" width="1.6" height="1.6" fill="#6cc46c"/><rect x="225.5" y="318.3" width="1.6" height="1.6" fill="#4a88ff"/><rect x="223.6" y="316.6" width="1.6" height="1.6" fill="#ffdd00"/><rect x="228.7" y="319.2" width="1.6" height="1.6" fill="#4a88ff"/><rect x="234.7" y="326.5" width="1.6" height="1.6" fill="#6cc46c"/><rect x="233.3" y="325.5" width="1.6" height="1.6" fill="#3355ff"/><rect x="231.7" y="327.0" width="1.6" height="1.6" fill="#6cc46c"/><rect x="229.2" y="322.3" width="1.6" height="1.6" fill="#ff8800"/><rect x="220.3" y="317.8" width="1.6" height="1.6" fill="#0000cc"/><ellipse cx="208.0" cy="344.0" rx="0.8" ry="0.8" fill="#6cc46c" transform="rotate(0 208.0 344.0)"/><ellipse cx="222.0" cy="354.0" rx="1.5" ry="0.8" fill="#66b3ff" transform="rotate(0 222.0 354.0)"/><ellipse cx="228.0" cy="355.0" rx="1.5" ry="0.8" fill="#66b3ff" transform="rotate(0 228.0 355.0)"/><ellipse cx="325.4" cy="384.7" rx="0.9" ry="0.9" fill="#2233ff" transform="rotate(0 325.4 384.7)"/><ellipse cx="327.5" cy="402.0" rx="6.4" ry="1.4" fill="#4a70f0" transform="rotate(-62 327.5 402.0)"/><rect x="328.4" y="399.9" width="1.6" height="1.6" fill="#3355ff"/><rect x="323.1" y="407.8" width="1.6" height="1.6" fill="#66b3ff"/><rect x="329.1" y="399.8" width="1.6" height="1.6" fill="#2233ff"/><rect x="326.9" y="403.6" width="1.6" height="1.6" fill="#6cc46c"/><rect x="327.3" y="400.7" width="1.6" height="1.6" fill="#0000ee"/><rect x="328.1" y="397.8" width="1.6" height="1.6" fill="#4a88ff"/><rect x="330.7" y="395.8" width="1.6" height="1.6" fill="#4a88ff"/><rect x="327.4" y="399.4" width="1.6" height="1.6" fill="#4a88ff"/><rect x="323.6" y="404.8" width="1.6" height="1.6" fill="#4a88ff"/><rect x="328.8" y="395.6" width="1.6" height="1.6" fill="#66b3ff"/><rect x="327.6" y="400.9" width="1.6" height="1.6" fill="#66b3ff"/><rect x="324.3" y="402.0" width="1.6" height="1.6" fill="#6cc46c"/><ellipse cx="321.0" cy="414.0" rx="3.2" ry="2.8" fill="#4a70f0" transform="rotate(0 321.0 414.0)"/><rect x="322.5" y="415.5" width="1.6" height="1.6" fill="#0000cc"/><rect x="317.4" y="413.8" width="1.6" height="1.6" fill="#ff8800"/><rect x="320.1" y="411.1" width="1.6" height="1.6" fill="#6cc46c"/><rect x="323.5" y="413.5" width="1.6" height="1.6" fill="#2233ff"/><rect x="317.7" y="413.6" width="1.6" height="1.6" fill="#ffdd00"/><rect x="321.5" y="414.0" width="1.6" height="1.6" fill="#2233ff"/><rect x="323.0" y="412.0" width="1.6" height="1.6" fill="#2233ff"/><rect x="319.1" y="412.6" width="1.6" height="1.6" fill="#ffdd00"/><rect x="319.8" y="410.4" width="1.6" height="1.6" fill="#66b3ff"/><rect x="321.8" y="415.3" width="1.6" height="1.6" fill="#2233ff"/><rect x="323.8" y="413.8" width="1.6" height="1.6" fill="#66b3ff"/><rect x="320.1" y="415.5" width="1.6" height="1.6" fill="#66b3ff"/><ellipse cx="318.0" cy="424.0" rx="1.5" ry="1.5" fill="#66b3ff" transform="rotate(0 318.0 424.0)"/><ellipse cx="329.0" cy="418.0" rx="1.0" ry="1.0" fill="#6cc46c" transform="rotate(0 329.0 418.0)"/><ellipse cx="335.0" cy="418.0" rx="1.2" ry="1.0" fill="#2233ff" transform="rotate(0 335.0 418.0)"/><ellipse cx="329.0" cy="428.0" rx="1.5" ry="1.0" fill="#66b3ff" transform="rotate(0 329.0 428.0)"/><ellipse cx="337.0" cy="411.0" rx="0.9" ry="0.9" fill="#6cc46c" transform="rotate(0 337.0 411.0)"/><ellipse cx="315.0" cy="398.0" rx="1.0" ry="0.8" fill="#66b3ff" transform="rotate(0 315.0 398.0)"/><ellipse cx="370.0" cy="423.5" rx="2.0" ry="2.4" fill="#4a70f0" transform="rotate(0 370.0 423.5)"/><rect x="368.0" y="423.8" width="1.6" height="1.6" fill="#4a88ff"/><rect x="370.0" y="423.7" width="1.6" height="1.6" fill="#66b3ff"/><rect x="369.9" y="420.8" width="1.6" height="1.6" fill="#2233ff"/><rect x="369.4" y="421.0" width="1.6" height="1.6" fill="#ffdd00"/><rect x="371.1" y="421.3" width="1.6" height="1.6" fill="#0000cc"/><rect x="370.7" y="421.2" width="1.6" height="1.6" fill="#66b3ff"/><ellipse cx="387.3" cy="452.5" rx="1.0" ry="1.0" fill="#6cc46c" transform="rotate(0 387.3 452.5)"/><ellipse cx="370.0" cy="472.3" rx="0.9" ry="0.9" fill="#66b3ff" transform="rotate(0 370.0 472.3)"/><ellipse cx="421.7" cy="477.0" rx="0.9" ry="0.9" fill="#66b3ff" transform="rotate(0 421.7 477.0)"/><ellipse cx="378.0" cy="488.0" rx="2.8" ry="6.0" fill="#4a70f0" transform="rotate(10 378.0 488.0)"/><rect x="376.6" y="491.8" width="1.6" height="1.6" fill="#ff8800"/><rect x="375.1" y="490.9" width="1.6" height="1.6" fill="#3355ff"/><rect x="379.3" y="481.6" width="1.6" height="1.6" fill="#0000ee"/><rect x="374.6" y="491.6" width="1.6" height="1.6" fill="#6cc46c"/><rect x="375.5" y="486.9" width="1.6" height="1.6" fill="#ff8800"/><rect x="377.7" y="490.1" width="1.6" height="1.6" fill="#6cc46c"/><rect x="374.6" y="487.5" width="1.6" height="1.6" fill="#4a88ff"/><rect x="378.4" y="493.1" width="1.6" height="1.6" fill="#4a88ff"/><rect x="379.8" y="488.2" width="1.6" height="1.6" fill="#66b3ff"/><rect x="377.0" y="481.4" width="1.6" height="1.6" fill="#2233ff"/><rect x="377.0" y="480.8" width="1.6" height="1.6" fill="#0000cc"/><rect x="377.9" y="488.8" width="1.6" height="1.6" fill="#6cc46c"/><rect x="374.2" y="484.7" width="1.6" height="1.6" fill="#0000ee"/><rect x="379.3" y="491.2" width="1.6" height="1.6" fill="#0000ee"/><rect x="380.7" y="485.9" width="1.6" height="1.6" fill="#0000ee"/><rect x="380.4" y="483.8" width="1.6" height="1.6" fill="#3355ff"/><rect x="375.9" y="483.1" width="1.6" height="1.6" fill="#ff8800"/><rect x="375.0" y="490.6" width="1.6" height="1.6" fill="#3355ff"/><rect x="376.4" y="493.2" width="1.6" height="1.6" fill="#ffdd00"/><rect x="377.2" y="493.5" width="1.6" height="1.6" fill="#ff8800"/><rect x="377.0" y="491.5" width="1.6" height="1.6" fill="#ff8800"/><rect x="376.2" y="486.5" width="1.6" height="1.6" fill="#ffdd00"/><rect x="378.2" y="480.6" width="1.6" height="1.6" fill="#66b3ff"/><ellipse cx="410.7" cy="495.0" rx="0.9" ry="0.9" fill="#6cc46c" transform="rotate(0 410.7 495.0)"/><ellipse cx="390.0" cy="509.7" rx="2.0" ry="2.0" fill="#2233ff" transform="rotate(0 390.0 509.7)"/><ellipse cx="478.5" cy="481.0" rx="3.5" ry="1.3" fill="#2233ff" transform="rotate(30 478.5 481.0)"/><ellipse cx="480.7" cy="495.0" rx="3.6" ry="4.0" fill="#4a70f0" transform="rotate(0 480.7 495.0)"/><rect x="476.9" y="496.1" width="1.6" height="1.6" fill="#ffdd00"/><rect x="479.7" y="491.4" width="1.6" height="1.6" fill="#0000cc"/><rect x="482.7" y="494.3" width="1.6" height="1.6" fill="#3355ff"/><rect x="480.1" y="497.1" width="1.6" height="1.6" fill="#0000ee"/><rect x="478.7" y="495.1" width="1.6" height="1.6" fill="#2233ff"/><rect x="476.7" y="496.7" width="1.6" height="1.6" fill="#66b3ff"/><rect x="481.6" y="493.6" width="1.6" height="1.6" fill="#6cc46c"/><rect x="480.9" y="489.5" width="1.6" height="1.6" fill="#ff8800"/><rect x="480.3" y="496.1" width="1.6" height="1.6" fill="#ff8800"/><rect x="482.0" y="493.2" width="1.6" height="1.6" fill="#4a88ff"/><rect x="483.2" y="491.5" width="1.6" height="1.6" fill="#66b3ff"/><rect x="483.4" y="496.7" width="1.6" height="1.6" fill="#2233ff"/><rect x="476.5" y="494.0" width="1.6" height="1.6" fill="#6cc46c"/><rect x="483.4" y="493.3" width="1.6" height="1.6" fill="#ff8800"/><rect x="484.0" y="494.2" width="1.6" height="1.6" fill="#ff8800"/><rect x="479.9" y="494.1" width="1.6" height="1.6" fill="#3355ff"/><rect x="480.8" y="494.4" width="1.6" height="1.6" fill="#ff8800"/><rect x="480.4" y="495.4" width="1.6" height="1.6" fill="#4a88ff"/><rect x="481.4" y="495.5" width="1.6" height="1.6" fill="#ff8800"/><rect x="478.5" y="495.2" width="1.6" height="1.6" fill="#ffdd00"/><ellipse cx="479.0" cy="507.0" rx="2.0" ry="3.0" fill="#66b3ff" transform="rotate(0 479.0 507.0)"/><ellipse cx="481.0" cy="514.0" rx="1.5" ry="3.0" fill="#2233ff" transform="rotate(20 481.0 514.0)"/><ellipse cx="476.0" cy="516.0" rx="2.0" ry="1.5" fill="#6cc46c" transform="rotate(0 476.0 516.0)"/><ellipse cx="480.0" cy="520.0" rx="2.0" ry="2.0" fill="#66b3ff" transform="rotate(0 480.0 520.0)"/><ellipse cx="478.0" cy="529.0" rx="5.6" ry="4.0" fill="#4a70f0" transform="rotate(0 478.0 529.0)"/><rect x="480.7" y="525.2" width="1.6" height="1.6" fill="#66b3ff"/><rect x="476.3" y="528.6" width="1.6" height="1.6" fill="#4a88ff"/><rect x="481.1" y="530.8" width="1.6" height="1.6" fill="#0000ee"/><rect x="480.4" y="529.4" width="1.6" height="1.6" fill="#4a88ff"/><rect x="479.1" y="532.7" width="1.6" height="1.6" fill="#6cc46c"/><rect x="480.2" y="525.2" width="1.6" height="1.6" fill="#0000ee"/><rect x="479.5" y="531.7" width="1.6" height="1.6" fill="#4a88ff"/><rect x="472.0" y="529.2" width="1.6" height="1.6" fill="#6cc46c"/><rect x="475.3" y="531.5" width="1.6" height="1.6" fill="#0000ee"/><rect x="482.0" y="528.6" width="1.6" height="1.6" fill="#3355ff"/><rect x="478.6" y="528.8" width="1.6" height="1.6" fill="#ff8800"/><rect x="482.1" y="527.4" width="1.6" height="1.6" fill="#66b3ff"/><rect x="473.0" y="529.4" width="1.6" height="1.6" fill="#6cc46c"/><rect x="478.7" y="524.8" width="1.6" height="1.6" fill="#2233ff"/><rect x="471.2" y="528.6" width="1.6" height="1.6" fill="#0000ee"/><rect x="474.8" y="527.3" width="1.6" height="1.6" fill="#0000ee"/><rect x="483.4" y="530.3" width="1.6" height="1.6" fill="#2233ff"/><rect x="473.6" y="524.0" width="1.6" height="1.6" fill="#4a88ff"/><rect x="479.7" y="526.0" width="1.6" height="1.6" fill="#6cc46c"/><rect x="475.1" y="527.9" width="1.6" height="1.6" fill="#6cc46c"/><rect x="483.4" y="530.1" width="1.6" height="1.6" fill="#0000ee"/><rect x="478.3" y="531.4" width="1.6" height="1.6" fill="#0000ee"/><rect x="479.9" y="531.3" width="1.6" height="1.6" fill="#0000ee"/><rect x="474.3" y="527.5" width="1.6" height="1.6" fill="#2233ff"/><rect x="474.3" y="532.2" width="1.6" height="1.6" fill="#2233ff"/><rect x="478.7" y="523.5" width="1.6" height="1.6" fill="#0000ee"/><rect x="477.8" y="531.3" width="1.6" height="1.6" fill="#ffdd00"/><rect x="477.1" y="532.6" width="1.6" height="1.6" fill="#3355ff"/><rect x="471.8" y="525.3" width="1.6" height="1.6" fill="#66b3ff"/><rect x="474.5" y="524.7" width="1.6" height="1.6" fill="#3355ff"/><rect x="484.0" y="527.2" width="1.6" height="1.6" fill="#ff8800"/></g>
<use href="#grid"/>
<use href="#swath"/>
<use href="#coast"/>
<use href="#glabels"/>
<use href="#marker"/>
<text x="37.12" y="65.9" font-size="25.5" textLength="367.86" lengthAdjust="spacingAndGlyphs">PR near surface reflectivity (dBZ)</text>
<text x="438.1" y="523.2" font-size="30">(a)</text>
<use href="#cbA"/>
<text x="524.6" y="556.56" font-size="20" text-anchor="middle">0</text>
<text x="524.6" y="505.81" font-size="20" text-anchor="middle">6</text>
<text x="524.6" y="455.07" font-size="20" text-anchor="middle">12</text>
<text x="524.6" y="404.32" font-size="20" text-anchor="middle">18</text>
<text x="524.6" y="353.57" font-size="20" text-anchor="middle">24</text>
<text x="524.6" y="302.83" font-size="20" text-anchor="middle">30</text>
<text x="524.6" y="252.08" font-size="20" text-anchor="middle">36</text>
<text x="524.6" y="201.34" font-size="20" text-anchor="middle">42</text>
<text x="524.6" y="150.59" font-size="20" text-anchor="middle">48</text>
<text x="524.6" y="99.85" font-size="20" text-anchor="middle">54</text>
</g>
<g transform="translate(590.5 0)">
<g clip-path="url(#mapclip)"><ellipse cx="228.5" cy="322.5" rx="9.0" ry="2.9" fill="#5a7af0" transform="rotate(33 228.5 322.5)" stroke="#000" stroke-width="1.3"/><ellipse cx="228.5" cy="322.5" rx="4.5" ry="1.6" fill="#ffb000" transform="rotate(33 228.5 322.5)"/><ellipse cx="208.0" cy="344.0" rx="1.2" ry="1.2" fill="#80dd80" transform="rotate(0 208.0 344.0)" stroke="#000" stroke-width="0.8"/><ellipse cx="222.0" cy="354.0" rx="1.5" ry="1.2" fill="#4466ee" transform="rotate(0 222.0 354.0)" stroke="#000" stroke-width="0.8"/><ellipse cx="228.0" cy="355.0" rx="1.5" ry="1.2" fill="#4466ee" transform="rotate(0 228.0 355.0)" stroke="#000" stroke-width="0.8"/><ellipse cx="325.4" cy="384.7" rx="1.2" ry="1.2" fill="#2233ee" transform="rotate(0 325.4 384.7)" stroke="#000" stroke-width="0.8"/><ellipse cx="327.5" cy="402.0" rx="7.2" ry="1.6" fill="#5a7af0" transform="rotate(-62 327.5 402.0)" stroke="#000" stroke-width="1.3"/><ellipse cx="327.5" cy="402.0" rx="3.6" ry="0.9" fill="#ffb000" transform="rotate(-62 327.5 402.0)"/><ellipse cx="321.0" cy="414.0" rx="3.6" ry="3.1" fill="#5a7af0" transform="rotate(0 321.0 414.0)" stroke="#000" stroke-width="1.3"/><ellipse cx="321.0" cy="414.0" rx="1.8" ry="1.8" fill="#ffb000" transform="rotate(0 321.0 414.0)"/><ellipse cx="318.0" cy="424.0" rx="1.5" ry="1.5" fill="#4466ee" transform="rotate(0 318.0 424.0)" stroke="#000" stroke-width="0.8"/><ellipse cx="329.0" cy="418.0" rx="1.2" ry="1.2" fill="#80dd80" transform="rotate(0 329.0 418.0)" stroke="#000" stroke-width="0.8"/><ellipse cx="335.0" cy="418.0" rx="1.2" ry="1.2" fill="#2233ee" transform="rotate(0 335.0 418.0)" stroke="#000" stroke-width="0.8"/><ellipse cx="329.0" cy="428.0" rx="1.5" ry="1.2" fill="#4466ee" transform="rotate(0 329.0 428.0)" stroke="#000" stroke-width="0.8"/><ellipse cx="337.0" cy="411.0" rx="1.2" ry="1.2" fill="#80dd80" transform="rotate(0 337.0 411.0)" stroke="#000" stroke-width="0.8"/><ellipse cx="315.0" cy="398.0" rx="1.2" ry="1.2" fill="#4466ee" transform="rotate(0 315.0 398.0)" stroke="#000" stroke-width="0.8"/><ellipse cx="370.0" cy="423.5" rx="2.2" ry="2.7" fill="#5a7af0" transform="rotate(0 370.0 423.5)" stroke="#000" stroke-width="1.3"/><ellipse cx="370.0" cy="423.5" rx="1.1" ry="1.5" fill="#ffb000" transform="rotate(0 370.0 423.5)"/><ellipse cx="387.3" cy="452.5" rx="1.2" ry="1.2" fill="#80dd80" transform="rotate(0 387.3 452.5)" stroke="#000" stroke-width="0.8"/><ellipse cx="370.0" cy="472.3" rx="1.2" ry="1.2" fill="#4466ee" transform="rotate(0 370.0 472.3)" stroke="#000" stroke-width="0.8"/><ellipse cx="421.7" cy="477.0" rx="1.2" ry="1.2" fill="#4466ee" transform="rotate(0 421.7 477.0)" stroke="#000" stroke-width="0.8"/><ellipse cx="378.0" cy="488.0" rx="3.1" ry="6.8" fill="#5a7af0" transform="rotate(10 378.0 488.0)" stroke="#000" stroke-width="1.3"/><ellipse cx="378.0" cy="488.0" rx="1.6" ry="3.8" fill="#ffb000" transform="rotate(10 378.0 488.0)"/><ellipse cx="410.7" cy="495.0" rx="1.2" ry="1.2" fill="#80dd80" transform="rotate(0 410.7 495.0)" stroke="#000" stroke-width="0.8"/><ellipse cx="390.0" cy="509.7" rx="2.0" ry="2.0" fill="#2233ee" transform="rotate(0 390.0 509.7)" stroke="#000" stroke-width="0.8"/><ellipse cx="478.5" cy="481.0" rx="3.5" ry="1.3" fill="#2233ee" transform="rotate(30 478.5 481.0)" stroke="#000" stroke-width="0.8"/><ellipse cx="480.7" cy="495.0" rx="4.0" ry="4.5" fill="#5a7af0" transform="rotate(0 480.7 495.0)" stroke="#000" stroke-width="1.3"/><ellipse cx="480.7" cy="495.0" rx="2.0" ry="2.5" fill="#ffb000" transform="rotate(0 480.7 495.0)"/><ellipse cx="479.0" cy="507.0" rx="2.0" ry="3.0" fill="#4466ee" transform="rotate(0 479.0 507.0)" stroke="#000" stroke-width="0.8"/><ellipse cx="481.0" cy="514.0" rx="1.5" ry="3.0" fill="#2233ee" transform="rotate(20 481.0 514.0)" stroke="#000" stroke-width="0.8"/><ellipse cx="476.0" cy="516.0" rx="2.0" ry="1.5" fill="#80dd80" transform="rotate(0 476.0 516.0)" stroke="#000" stroke-width="0.8"/><ellipse cx="480.0" cy="520.0" rx="2.0" ry="2.0" fill="#4466ee" transform="rotate(0 480.0 520.0)" stroke="#000" stroke-width="0.8"/><ellipse cx="478.0" cy="529.0" rx="6.3" ry="4.5" fill="#5a7af0" transform="rotate(0 478.0 529.0)" stroke="#000" stroke-width="1.3"/><ellipse cx="478.0" cy="529.0" rx="3.1" ry="2.5" fill="#ffb000" transform="rotate(0 478.0 529.0)"/></g>
<use href="#grid"/>
<use href="#swath"/>
<use href="#coast"/>
<use href="#glabels"/>
<use href="#marker"/>
<text x="36.42" y="65.9" font-size="25.5" textLength="407.74" lengthAdjust="spacingAndGlyphs">PR max reflectivity projection (dBZ)</text>
<text x="438.1" y="523.2" font-size="30">(b)</text>
<use href="#cbA"/>
<text x="524.6" y="556.56" font-size="20" text-anchor="middle">0</text>
<text x="524.6" y="505.81" font-size="20" text-anchor="middle">6</text>
<text x="524.6" y="455.07" font-size="20" text-anchor="middle">12</text>
<text x="524.6" y="404.32" font-size="20" text-anchor="middle">18</text>
<text x="524.6" y="353.57" font-size="20" text-anchor="middle">24</text>
<text x="524.6" y="302.83" font-size="20" text-anchor="middle">30</text>
<text x="524.6" y="252.08" font-size="20" text-anchor="middle">36</text>
<text x="524.6" y="201.34" font-size="20" text-anchor="middle">42</text>
<text x="524.6" y="150.59" font-size="20" text-anchor="middle">48</text>
<text x="524.6" y="99.85" font-size="20" text-anchor="middle">54</text>
</g>
<g transform="translate(1181 0)">
<g clip-path="url(#mapclip)"><ellipse cx="228.5" cy="322.5" rx="9.0" ry="2.9" fill="#80d880" transform="rotate(33 228.5 322.5)" stroke="#000" stroke-width="1.3"/><ellipse cx="228.5" cy="322.5" rx="4.0" ry="1.4" fill="#88bbff" transform="rotate(33 228.5 322.5)"/><ellipse cx="208.0" cy="344.0" rx="1.1" ry="1.1" fill="#80dd80" transform="rotate(0 208.0 344.0)" stroke="#000" stroke-width="0.8"/><ellipse cx="325.4" cy="384.7" rx="1.1" ry="1.1" fill="#80dd80" transform="rotate(0 325.4 384.7)" stroke="#000" stroke-width="0.8"/><ellipse cx="327.5" cy="402.0" rx="7.2" ry="1.6" fill="#80d880" transform="rotate(-62 327.5 402.0)" stroke="#000" stroke-width="1.3"/><ellipse cx="327.5" cy="402.0" rx="3.2" ry="0.8" fill="#88bbff" transform="rotate(-62 327.5 402.0)"/><ellipse cx="321.0" cy="414.0" rx="3.6" ry="3.1" fill="#80d880" transform="rotate(0 321.0 414.0)" stroke="#000" stroke-width="1.3"/><ellipse cx="321.0" cy="414.0" rx="1.6" ry="1.6" fill="#88bbff" transform="rotate(0 321.0 414.0)"/><ellipse cx="329.0" cy="418.0" rx="1.1" ry="1.1" fill="#80dd80" transform="rotate(0 329.0 418.0)" stroke="#000" stroke-width="0.8"/><ellipse cx="335.0" cy="418.0" rx="1.2" ry="1.1" fill="#80dd80" transform="rotate(0 335.0 418.0)" stroke="#000" stroke-width="0.8"/><ellipse cx="337.0" cy="411.0" rx="1.1" ry="1.1" fill="#80dd80" transform="rotate(0 337.0 411.0)" stroke="#000" stroke-width="0.8"/><ellipse cx="370.0" cy="423.5" rx="2.2" ry="2.7" fill="#80d880" transform="rotate(0 370.0 423.5)" stroke="#000" stroke-width="1.3"/><ellipse cx="370.0" cy="423.5" rx="1.0" ry="1.4" fill="#88bbff" transform="rotate(0 370.0 423.5)"/><ellipse cx="387.3" cy="452.5" rx="1.1" ry="1.1" fill="#80dd80" transform="rotate(0 387.3 452.5)" stroke="#000" stroke-width="0.8"/><ellipse cx="378.0" cy="488.0" rx="3.1" ry="6.8" fill="#80d880" transform="rotate(10 378.0 488.0)" stroke="#000" stroke-width="1.3"/><ellipse cx="378.0" cy="488.0" rx="1.4" ry="3.4" fill="#88bbff" transform="rotate(10 378.0 488.0)"/><ellipse cx="410.7" cy="495.0" rx="1.1" ry="1.1" fill="#80dd80" transform="rotate(0 410.7 495.0)" stroke="#000" stroke-width="0.8"/><ellipse cx="390.0" cy="509.7" rx="2.0" ry="2.0" fill="#80dd80" transform="rotate(0 390.0 509.7)" stroke="#000" stroke-width="0.8"/><ellipse cx="478.5" cy="481.0" rx="3.5" ry="1.3" fill="#80dd80" transform="rotate(30 478.5 481.0)" stroke="#000" stroke-width="0.8"/><ellipse cx="480.7" cy="495.0" rx="4.0" ry="4.5" fill="#80d880" transform="rotate(0 480.7 495.0)" stroke="#000" stroke-width="1.3"/><ellipse cx="480.7" cy="495.0" rx="1.8" ry="2.2" fill="#88bbff" transform="rotate(0 480.7 495.0)"/><ellipse cx="481.0" cy="514.0" rx="1.5" ry="3.0" fill="#80dd80" transform="rotate(20 481.0 514.0)" stroke="#000" stroke-width="0.8"/><ellipse cx="476.0" cy="516.0" rx="2.0" ry="1.5" fill="#80dd80" transform="rotate(0 476.0 516.0)" stroke="#000" stroke-width="0.8"/><ellipse cx="478.0" cy="529.0" rx="6.3" ry="4.5" fill="#80d880" transform="rotate(0 478.0 529.0)" stroke="#000" stroke-width="1.3"/><ellipse cx="478.0" cy="529.0" rx="2.8" ry="2.2" fill="#88bbff" transform="rotate(0 478.0 529.0)"/></g>
<use href="#grid"/>
<use href="#swath"/>
<use href="#coast"/>
<use href="#glabels"/>
<use href="#marker"/>
<text x="36.66" y="65.9" font-size="25.5" textLength="407.48" lengthAdjust="spacingAndGlyphs">2A25 near surface rainrate (mm/hr)</text>
<text x="438.1" y="523.2" font-size="30">(c)</text>
<use href="#cbC"/>
<text x="524.6" y="556.56" font-size="20" text-anchor="middle">0</text>
<text x="524.6" y="505.81" font-size="20" text-anchor="middle">6</text>
<text x="524.6" y="455.07" font-size="20" text-anchor="middle">12</text>
<text x="524.6" y="404.32" font-size="20" text-anchor="middle">18</text>
<text x="524.6" y="353.57" font-size="20" text-anchor="middle">24</text>
<text x="524.6" y="302.83" font-size="20" text-anchor="middle">30</text>
<text x="524.6" y="252.08" font-size="20" text-anchor="middle">36</text>
<text x="524.6" y="201.34" font-size="20" text-anchor="middle">42</text>
<text x="524.6" y="150.59" font-size="20" text-anchor="middle">48</text>
<text x="524.6" y="99.85" font-size="20" text-anchor="middle">54</text>
</g>
<g transform="translate(0 590.5)">
<g clip-path="url(#mapclip)"><defs><linearGradient id="gd" gradientUnits="userSpaceOnUse" x1="13" y1="79" x2="380" y2="540"><stop offset="0" stop-color="#d8d8d8"/><stop offset="0.3" stop-color="#e1e1e1"/><stop offset="0.55" stop-color="#e9e9e9"/><stop offset="1" stop-color="#f0f0f0"/></linearGradient><clipPath id="tmiclip"><path d="M12.9 79.0L69.5 109.5L200.0 181.7L300.0 239.5L328.2 258.9L356.5 278.1L384.7 293.3L400.0 302.3L408.5 309.5L428.2 321.9L456.5 341.1L484.7 359.2L486.2 360.2L486.2 548.8L250.7 548.8L192.2 511.2L140.0 478.7L102.8 457.0L79.1 443.5L55.3 430.1L34.8 418.2L12.9 406.4Z"/></clipPath></defs><path d="M12.9 79.0L69.5 109.5L200.0 181.7L300.0 239.5L328.2 258.9L356.5 278.1L384.7 293.3L400.0 302.3L408.5 309.5L428.2 321.9L456.5 341.1L484.7 359.2L486.2 360.2L486.2 548.8L250.7 548.8L192.2 511.2L140.0 478.7L102.8 457.0L79.1 443.5L55.3 430.1L34.8 418.2L12.9 406.4Z" fill="url(#gd)"/><g clip-path="url(#tmiclip)"><path d="M215.0 259.5L222.0 228.0L245.0 210.0L270.0 214.5L300.0 231.5L322.0 249.5L305.0 275.0L275.0 282.0L262.0 296.0L252.0 314.0L236.0 316.0L222.0 299.0Z" fill="#d0d0d0" filter="url(#blur4)"/><path d="M232.0 248.0L250.0 222.0L290.0 226.0L300.0 240.0L280.0 255.0L258.0 262.0L242.0 285.0Z" fill="#c3c3c3" filter="url(#blur4)"/></g><path d="M327 295 Q342 340 328 385 Q305 430 255 448" fill="none" stroke="#dedede" stroke-width="3" filter="url(#blur2)"/><path d="M232.1 285.3L234.3 280.7L237.9 278.9L241.6 278.5L245.2 277.1L248.8 276.7L251.9 276.9L253.3 279.8L251.0 283.4L250.6 285.3L248.8 282.6L245.2 285.3L241.6 288.0L237.9 288.9L234.3 289.8L233.0 292.5Z" fill="#80dd80" stroke="#000" stroke-width="0.9"/><path d="M299.4 279.5L304.0 278.3L311.0 278.8L311.6 281.5L305.0 282.6L300.5 283.0Z" fill="#90c4ff" stroke="#000" stroke-width="0.9"/><path d="M291 275 L296 278" stroke="#000" stroke-width="2.2"/><circle cx="319.5" cy="293.5" r="1.3" fill="#000"/><circle cx="326.5" cy="297.5" r="1.4" fill="#000"/><circle cx="327.5" cy="325.5" r="1.5" fill="#000"/><circle cx="334" cy="342" r="1.2" fill="#000"/><circle cx="389" cy="271" r="1.4" fill="#000"/><circle cx="382" cy="302" r="1.2" fill="#000"/><circle cx="273" cy="240" r="1.0" fill="#000"/><path d="M383.5 318 L386 312.5 L389 315 L388 323 L384.5 325.5 Z" fill="#80dd80" stroke="#000" stroke-width="0.9"/><path d="M376 337 L381 335.5 L384 340 L377 341 Z" fill="#a8c8ff" stroke="#000" stroke-width="0.9"/><path d="M373 481 L376 486 L374.5 487 Z" fill="#80dd80" stroke="#000" stroke-width="1"/><ellipse cx="471.6" cy="464.3" rx="2.2" ry="1.6" fill="#80dd80" stroke="#000" stroke-width="0.9"/><ellipse cx="481" cy="469.1" rx="2.2" ry="1.6" fill="#000" stroke="#000" stroke-width="0.9"/><ellipse cx="474.8" cy="491.2" rx="2.2" ry="1.6" fill="#000" stroke="#000" stroke-width="0.9"/><ellipse cx="481.1" cy="522.8" rx="2.2" ry="1.6" fill="#80dd80" stroke="#000" stroke-width="0.9"/></g>
<use href="#grid"/>
<use href="#swath"/>
<use href="#coast"/>
<use href="#glabels"/>
<use href="#marker"/>
<text x="43.41" y="65.9" font-size="25.5" textLength="174.68" lengthAdjust="spacingAndGlyphs">85GHz PCT (K)</text>
<text x="438.1" y="523.2" font-size="30">(d)</text>
<use href="#cbA"/>
<text x="524.6" y="556.56" font-size="20" text-anchor="middle">300</text>
<text x="524.6" y="505.81" font-size="20" text-anchor="middle">279</text>
<text x="524.6" y="455.07" font-size="20" text-anchor="middle">258</text>
<text x="524.6" y="404.32" font-size="20" text-anchor="middle">237</text>
<text x="524.6" y="353.57" font-size="20" text-anchor="middle">216</text>
<text x="524.6" y="302.83" font-size="20" text-anchor="middle">195</text>
<text x="524.6" y="252.08" font-size="20" text-anchor="middle">174</text>
<text x="524.6" y="201.34" font-size="20" text-anchor="middle">153</text>
<text x="524.6" y="150.59" font-size="20" text-anchor="middle">132</text>
<text x="524.6" y="99.85" font-size="20" text-anchor="middle">111</text>
</g>
<g transform="translate(590.5 590.5)">
<g clip-path="url(#mapclip)"><path d="M12.9 79.0L69.5 109.5L200.0 181.7L300.0 239.5L328.2 258.9L356.5 278.1L384.7 293.3L400.0 302.3L408.5 309.5L428.2 321.9L456.5 341.1L484.7 359.2L486.2 360.2L486.2 548.8L250.7 548.8L192.2 511.2L140.0 478.7L102.8 457.0L79.1 443.5L55.3 430.1L34.8 418.2L12.9 406.4Z" fill="#a9c8fa"/><defs><clipPath id="tmiclip_e"><path d="M12.9 79.0L69.5 109.5L200.0 181.7L300.0 239.5L328.2 258.9L356.5 278.1L384.7 293.3L400.0 302.3L408.5 309.5L428.2 321.9L456.5 341.1L484.7 359.2L486.2 360.2L486.2 548.8L250.7 548.8L192.2 511.2L140.0 478.7L102.8 457.0L79.1 443.5L55.3 430.1L34.8 418.2L12.9 406.4Z"/></clipPath></defs><g clip-path="url(#tmiclip_e)"><path d="M0.0 60.0L69.5 100.0L200.0 170.0L240.0 200.0L205.0 205.0L150.0 214.0L80.0 214.0L0.0 216.0Z" fill="#7ab3fd" filter="url(#blur6)"/></g><path d="M19.7 103.5L40.0 101.9L53.5 113.7L50.2 130.7L43.4 147.6L34.9 140.8L24.7 127.3Z" fill="#5a8cf6" filter="url(#blur3)"/><path d="M90.8 151.0L111.1 151.0L128.1 161.1L121.3 174.7L104.4 173.0L92.5 164.5Z" fill="#5a8cf6" filter="url(#blur3)"/><path d="M133.2 164.5L148.4 161.1L160.3 174.7L153.5 186.6L139.9 183.2Z" fill="#5a8cf6" filter="url(#blur3)"/><path d="M34.9 191.6L48.5 195.0L45.1 212.0L34.9 210.3Z" fill="#5a8cf6" filter="url(#blur3)"/><path d="M56.9 147.6L67.1 144.2L73.9 154.4L65.4 161.1L58.6 157.8Z" fill="#5a8cf6" filter="url(#blur3)"/><path d="M12.9 220.4L60.3 212.0L111.1 218.7L128.1 228.9L124.7 250.9L114.5 276.3L102.7 289.9L60.3 296.7L12.9 305.1Z" fill="#a9c9f6"/><path d="M12.9 378.1L12.9 301.9L43.4 300.2L85.7 306.9L114.5 276.3L124.7 250.9L138.2 222.1L155.2 220.4L172.1 228.9L192.5 242.5L207.7 249.2L209.4 271.3L194.2 283.1L178.9 310.3L172.1 327.3L175.5 340.8L189.1 354.4L195.8 364.5L212.8 378.1L229.7 381.5L243.3 376.4L255.1 364.5L263.6 354.4L270.4 344.2L280.5 339.1L297.5 330.7L289.5 361.1L340.3 354.4L391.1 347.6L442.0 340.8L486.0 361.1L486.0 442.5L469.1 439.1L452.1 439.1L442.0 454.3L438.6 479.7L436.9 503.4L430.1 523.8L418.2 537.3L413.2 547.5L250.7 548.8L250.7 548.8L192.2 511.2L140.0 478.7L102.8 457.0L79.1 443.5L55.3 430.1L34.8 418.2L12.9 406.4Z" fill="#78d078"/><path d="M289.5 296.7L340.3 269.6L374.2 288.2L425.0 317.0L486.0 359.5L486.0 361.1L442.0 340.8L391.1 347.6L340.3 354.4L289.5 361.1Z" fill="#b2cfe0"/><path d="M193.3 473.0L212.8 466.2L229.7 465.3L246.7 456.0L260.2 445.8L270.4 439.1L280.5 428.9L290.7 422.1L311.5 425.5L323.4 434.0L335.2 442.5L347.1 450.9L353.9 459.4L357.3 467.9L362.3 478.0L367.4 488.2L372.5 496.7L375.9 505.1L377.6 513.6L377.6 523.8L370.8 533.9L365.7 548.3L250.7 548.8L194.2 511.9L190.8 500.1L192.5 483.1Z" fill="#a0a0a0"/><path d="M50.2 330.7L60.3 323.9L80.7 317.1L104.4 310.3L117.9 308.6L128.1 312.0L126.4 323.9L121.3 332.3L117.9 340.8L111.1 347.6L104.4 354.4L92.5 359.4L82.3 357.8L73.9 352.7L65.4 347.6L55.2 342.5L50.2 337.4Z" fill="#a3a3a3"/><path d="M12.9 323.9L19.7 322.2L24.7 330.7L26.4 354.4L31.5 374.7L16.3 376.4L12.9 367.9Z" fill="#a9aaa9"/><path d="M29.8 367.9L40.0 361.1L56.9 364.5L60.3 374.7L43.4 376.4L31.5 374.7Z" fill="#a8b4a8"/><path d="M12.9 378.1L34.9 378.1L60.3 378.1L68.8 384.9L60.3 398.4L55.2 412.0L51.9 426.5L34.8 418.2L12.9 406.4Z" fill="#86aef6"/><path d="M486.0 442.5L469.1 439.1L452.1 439.1L442.0 454.3L438.6 479.7L436.9 503.4L430.1 523.8L418.2 537.3L413.2 548.3L486.0 548.3Z" fill="#6fa5fb"/><path d="M172.7 326.0L186.1 352.6L212.7 372.6L239.4 379.3L262.7 359.3L276.0 332.6L289.3 309.3L306.0 292.7L319.3 282.7L319.3 259.4L299.3 232.7L272.7 212.7L232.7 206.0L199.4 212.7L179.4 232.7L172.7 266.0L169.4 299.3Z" fill="#c2d2fb" filter="url(#blur2)"/><path d="M199.4 232.7L232.7 226.0L266.0 229.4L299.3 239.4L309.3 266.0L299.3 282.7L266.0 299.3L249.4 319.3L232.7 329.3L212.7 319.3L206.0 292.7L199.4 259.4Z" fill="#8cb6fb" filter="url(#blur3)"/><path d="M219.4 242.7L252.7 242.7L256.0 266.0L249.4 299.3L232.7 319.3L216.0 319.3L212.7 292.7Z" fill="#5a82f6" filter="url(#blur3)"/><path d="M229.4 262.7L246.0 262.7L247.7 282.7L239.4 306.0L229.4 316.0L222.7 309.3L226.0 286.0Z" fill="#2a3af0" filter="url(#blur2)"/><path d="M262.7 232.7L286.0 232.7L301.0 246.0L294.3 261.0L272.7 257.7L261.0 247.7Z" fill="#3040f0" filter="url(#blur2)"/><path d="M296.0 259.4L319.3 266.0L332.6 286.0L319.3 299.3L302.7 292.7Z" fill="#6a94f8" filter="url(#blur2)"/><path d="M377.5 295.5L385.5 293.5L394.5 309.5L391.5 323.5L383.5 319.5L378.5 307.5Z" fill="#3a4aff" filter="url(#blur1)"/><path d="M317.5 330.5L327.5 329.5L331.5 344.5L321.5 342.5Z" fill="#4a66ff" filter="url(#blur1)"/></g>
<use href="#grid"/>
<use href="#swath"/>
<use href="#coast"/>
<use href="#glabels"/>
<use href="#marker"/>
<text x="42.91" y="65.9" font-size="25.5" textLength="175.39" lengthAdjust="spacingAndGlyphs">37GHz PCT (K)</text>
<text x="438.1" y="523.2" font-size="30">(e)</text>
<use href="#cbA"/>
<text x="524.6" y="556.56" font-size="20" text-anchor="middle">315</text>
<text x="524.6" y="505.81" font-size="20" text-anchor="middle">306</text>
<text x="524.6" y="455.07" font-size="20" text-anchor="middle">297</text>
<text x="524.6" y="404.32" font-size="20" text-anchor="middle">288</text>
<text x="524.6" y="353.57" font-size="20" text-anchor="middle">279</text>
<text x="524.6" y="302.83" font-size="20" text-anchor="middle">270</text>
<text x="524.6" y="252.08" font-size="20" text-anchor="middle">261</text>
<text x="524.6" y="201.34" font-size="20" text-anchor="middle">252</text>
<text x="524.6" y="150.59" font-size="20" text-anchor="middle">243</text>
<text x="524.6" y="99.85" font-size="20" text-anchor="middle">234</text>
</g>
<g transform="translate(1181 590.5)">
<g clip-path="url(#mapclip)"><path d="M219.7 254.8L221.9 244.7L228.7 237.9L235.5 231.1L243.4 226.6L249.0 224.3L245.6 218.7L252.4 217.6L260.3 219.3L268.2 223.2L271.6 224.9L262.6 226.6L258.1 228.9L253.5 232.2L258.1 236.8L264.8 239.0L271.6 239.0L278.4 235.6L285.2 233.4L291.9 237.9L298.7 242.4L305.5 245.8L312.3 249.2L310.0 252.6L316.8 260.5L323.6 257.1L330.3 260.5L337.1 263.9L341.6 269.5L342.7 278.6L339.4 285.3L332.6 286.5L325.8 287.6L332.6 289.8L337.1 293.2L334.8 295.5L325.8 297.7L325.8 303.4L326.9 310.2L325.8 314.7L328.1 323.7L329.2 335.0L331.5 344.1L334.8 350.8L336.0 357.6L333.7 371.2L329.2 371.2L325.8 364.4L322.4 357.6L324.7 352.0L321.3 344.1L319.0 335.0L316.8 329.4L314.5 321.5L308.9 312.4L303.2 310.2L301.0 306.8L294.2 301.1L287.4 292.1L280.6 286.5L276.1 285.3L273.9 288.7L267.1 289.8L264.8 295.5L263.7 301.1L260.3 305.7L258.1 311.3L253.5 311.3L246.8 309.0L237.7 311.3L234.3 318.1L232.1 324.9L226.4 323.7L219.7 319.2L212.9 312.4L210.6 303.4L208.4 298.9L216.3 297.7L215.1 289.8L216.3 283.1Z" fill="#84dc84" stroke="#000" stroke-width="1.5" stroke-linejoin="round"/><path d="M224.2 258.2L233.2 260.5L237.7 267.3L242.2 269.5L249.0 267.3L255.8 262.7L262.6 260.5L269.3 262.7L275.0 260.5L280.6 258.2L289.7 256.0L297.6 253.7L303.2 256.0L301.0 260.5L297.6 262.7L291.9 265.0L285.2 267.3L278.4 267.3L271.6 271.8L264.8 277.4L258.1 277.4L246.8 274.0L237.7 272.9L228.7 278.6L224.2 277.4L226.4 267.3Z" fill="#fff" stroke="#000" stroke-width="1.4" stroke-linejoin="round"/><path d="M233.2 258.2L237.7 256.0L241.1 260.5L238.9 265.0L234.3 262.7Z" fill="#fff" stroke="#000" stroke-width="0.9"/><path d="M278.4 242.4L286.3 240.2L291.9 245.8L287.4 249.2L280.6 246.9Z" fill="#fff" stroke="#000" stroke-width="0.9"/><path d="M263.7 251.4L271.6 250.3L275.0 254.8L269.3 256.0Z" fill="#fff" stroke="#000" stroke-width="0.9"/><path d="M284.0 251.4L289.7 250.3L291.9 256.0L286.3 257.1Z" fill="#fff" stroke="#000" stroke-width="0.9"/><path d="M324.7 262.7L331.5 265.0L334.8 268.4L329.2 268.4Z" fill="#fff" stroke="#000" stroke-width="0.9"/><rect x="280.6" y="271.8" width="4.5" height="7.9" fill="#3355ff" transform="rotate(-25 280.6 271.8)"/><rect x="289.7" y="275.2" width="4.0" height="6.8" fill="#3355ff" transform="rotate(-25 289.7 275.2)"/><rect x="296.4" y="278.6" width="4.5" height="6.8" fill="#88bbff" transform="rotate(-25 296.4 278.6)"/><rect x="298.7" y="285.3" width="3.4" height="4.5" fill="#55aaff" transform="rotate(-25 298.7 285.3)"/><rect x="287.4" y="269.5" width="4.5" height="4.5" fill="#aaccff" transform="rotate(-25 287.4 269.5)"/><rect x="311.1" y="289.8" width="4.5" height="6.8" fill="#99c4ff" transform="rotate(-25 311.1 289.8)"/><rect x="235.5" y="297.7" width="3.4" height="5.6" fill="#3344ee" transform="rotate(-25 235.5 297.7)"/><rect x="218.5" y="309.0" width="4.5" height="4.5" fill="#4466ff" transform="rotate(-25 218.5 309.0)"/><rect x="221.9" y="316.9" width="6.8" height="3.4" fill="#88bbff" transform="rotate(-25 221.9 316.9)"/><rect x="228.7" y="306.8" width="3.4" height="2.3" fill="#66aaff" transform="rotate(-25 228.7 306.8)"/><rect x="322.4" y="336.1" width="4.5" height="5.6" fill="#99c4ff" transform="rotate(-25 322.4 336.1)"/><rect x="266.0" y="278.6" width="3.4" height="4.5" fill="#ccd4ff" transform="rotate(-25 266.0 278.6)"/><rect x="320.2" y="272.9" width="3.4" height="4.5" fill="#ccd4ff" transform="rotate(-25 320.2 272.9)"/><rect x="249.0" y="301.1" width="4.5" height="3.4" fill="#ccd4ff" transform="rotate(-25 249.0 301.1)"/><path d="M188.0 337.3L192.6 330.5L199.3 328.2L201.6 330.5L208.4 329.4L216.3 333.9L224.2 341.8L233.2 344.1L240.0 346.3L233.2 347.4L228.7 349.7L221.9 353.1L212.9 350.8L203.8 347.4L195.9 344.1L190.3 340.7Z" fill="#84dc84" stroke="#000" stroke-width="1.5"/><ellipse cx="215.1" cy="335.0" rx="3.5" ry="6.5" fill="none" stroke="#000" stroke-width="1.1" transform="rotate(30 215.1 335.0)"/><path d="M379.4 319.8L382.7 309.8L387.7 299.8L392.7 298.1L392.7 306.5L387.7 318.2L382.7 326.5Z" fill="#84dc84" stroke="#000" stroke-width="1"/><path d="M362.7 339.8L372.7 334.8L379.4 333.2L382.7 346.5L377.7 353.2L371.0 349.9Z" fill="#84dc84" stroke="#000" stroke-width="1"/><path d="M312.6 409.9L317.7 399.9L324.3 396.6L327.7 391.6L324.3 404.9L319.3 414.9Z" fill="#84dc84" stroke="#000" stroke-width="1"/><path d="M452.8 399.9L459.5 398.2L466.1 401.6L461.1 404.9Z" fill="#84dc84" stroke="#000" stroke-width="0.9"/><path d="M467.8 460.0L472.8 453.3L479.5 461.6L484.5 468.3L476.1 470.0Z" fill="#99c4ff" stroke="#000" stroke-width="0.9"/><path d="M369.4 476.6L374.4 476.6L377.7 484.0L373.4 485.0Z" fill="#84dc84" stroke="#000" stroke-width="0.9"/><path d="M472.8 526.7L479.5 521.7L486.2 523.4L484.5 528.4L477.8 530.0Z" fill="#84dc84" stroke="#000" stroke-width="0.9"/><path d="M472.8 490.0L476.1 488.3L476.8 493.3L473.5 494.0Z" fill="#84dc84" stroke="#000" stroke-width="0.9"/><path d="M12.0 404.5l5 2" stroke="#66b3ff" stroke-width="1.5"/><path d="M36.0 418.5l10 5" stroke="#66b3ff" stroke-width="1.8"/></g>
<use href="#grid"/>
<use href="#swath"/>
<use href="#coast"/>
<use href="#glabels"/>
<use href="#marker"/>
<text x="36.36" y="65.9" font-size="25.5" textLength="244.57" lengthAdjust="spacingAndGlyphs">2A12 rainrate (mm/hr)</text>
<text x="438.1" y="523.2" font-size="30">(f)</text>
<use href="#cbC"/>
<text x="524.6" y="556.56" font-size="20" text-anchor="middle">0</text>
<text x="524.6" y="505.81" font-size="20" text-anchor="middle">6</text>
<text x="524.6" y="455.07" font-size="20" text-anchor="middle">12</text>
<text x="524.6" y="404.32" font-size="20" text-anchor="middle">18</text>
<text x="524.6" y="353.57" font-size="20" text-anchor="middle">24</text>
<text x="524.6" y="302.83" font-size="20" text-anchor="middle">30</text>
<text x="524.6" y="252.08" font-size="20" text-anchor="middle">36</text>
<text x="524.6" y="201.34" font-size="20" text-anchor="middle">42</text>
<text x="524.6" y="150.59" font-size="20" text-anchor="middle">48</text>
<text x="524.6" y="99.85" font-size="20" text-anchor="middle">54</text>
</g>
<g transform="translate(0 1181)">
<g clip-path="url(#mapclip)"><defs><clipPath id="virsclip"><path d="M12.9 90.2L84.7 129.7L141.2 160.8L189.2 187.6L236.0 214.1L293.4 247.8L336.4 276.5L379.4 305.1L408.1 322.3L451.1 348.2L485.6 369.7L486.2 370.0L486.2 548.8L260.9 548.8L221.3 523.4L189.7 502.1L158.1 483.9L110.7 455.4L55.3 423.8L12.9 399.3Z"/></clipPath><linearGradient id="gg" gradientUnits="userSpaceOnUse" x1="13" y1="90" x2="330" y2="520"><stop offset="0" stop-color="#c9c9c9"/><stop offset="0.45" stop-color="#cfcfcf"/><stop offset="0.8" stop-color="#d7d7d7"/><stop offset="1" stop-color="#d1d1d1"/></linearGradient></defs><path d="M12.9 90.2L84.7 129.7L141.2 160.8L189.2 187.6L236.0 214.1L293.4 247.8L336.4 276.5L379.4 305.1L408.1 322.3L451.1 348.2L485.6 369.7L486.2 370.0L486.2 548.8L260.9 548.8L221.3 523.4L189.7 502.1L158.1 483.9L110.7 455.4L55.3 423.8L12.9 399.3Z" fill="url(#gg)"/><g clip-path="url(#virsclip)"><path d="M67.8 317.6L135.5 309.1L186.3 326.1L220.2 351.5L228.7 385.3L186.3 393.8L135.5 393.8L84.7 376.9L59.3 351.5Z" fill="#dcdcdc" filter="url(#blur8)"/><path d="M240.0 433.1L296.5 419.0L338.8 440.2L352.9 496.6L338.8 549.0L240.0 549.0Z" fill="#dddddd" filter="url(#blur8)"/><path d="M209.1 206.5L221.8 207.9L303.6 251.7L338.9 272.9L341.7 288.4L330.5 302.5L313.5 295.5L292.3 288.4L271.2 281.3L242.9 295.5L220.3 302.5L209.1 288.4Z" fill="#8cb2e6"/><path d="M222.9 313.2L247.8 326.8L259.1 315.5L276.0 292.9L292.9 281.6L315.5 292.9L332.5 281.6L343.7 281.6L349.4 298.5L343.7 315.5L343.7 332.4L326.8 344.8L309.9 360.6L298.6 371.9L281.6 385.5L270.3 400.2L259.1 417.1L247.8 428.4L234.2 441.9L222.9 453.2L213.9 444.2L202.6 422.7L213.9 405.8L225.2 388.9L234.2 371.9L239.9 355.0L238.7 338.1Z" fill="#8ab3e0"/><path d="M243.2 360.6L253.4 358.4L256.8 369.7L247.8 377.6L241.0 371.9Z" fill="#3a55ee" filter="url(#blur2)"/><path d="M259.1 371.9L292.9 358.4L304.2 360.6L281.6 383.2L264.7 400.2L253.4 394.5Z" fill="#90c8a8" filter="url(#blur2)"/><path d="M172.3 195.2L186.5 188.2L203.4 198.1L221.8 209.3L214.7 234.8L210.5 260.2L211.9 274.3L216.1 288.4L223.2 301.1L228.8 313.8L237.3 330.7L242.9 344.9L228.8 347.7L214.7 339.2L197.8 327.9L186.5 316.6L176.6 306.7L165.3 295.5L163.9 281.3L172.3 267.2L178.0 253.1L179.4 239.0L183.6 229.1Z" fill="#94cc94"/><path d="M221.8 209.3L234.5 215.0L271.2 234.8L303.6 251.7L313.5 257.3L310.7 267.2L299.4 271.5L288.1 274.3L279.6 281.3L265.5 288.4L257.0 299.7L251.4 309.6L242.9 313.8L231.6 309.6L223.2 301.1L216.1 288.4L211.9 274.3L210.5 260.2L211.9 246.0L214.7 234.8L217.5 220.6Z" fill="#3a55ee"/><path d="M228.8 226.3L257.0 231.9L285.3 246.0L292.3 260.2L271.2 267.2L250.0 274.3L237.3 267.2L228.8 253.1Z" fill="#2233e6" filter="url(#blur3)"/><path d="M265.5 248.9L276.8 250.3L286.7 253.8L285.3 258.8L282.5 260.2L283.9 271.5L279.6 281.3L275.4 291.2L269.8 302.5L265.5 311.0L259.9 315.2L257.0 312.4L262.7 302.5L264.1 292.6L262.7 284.2L268.3 275.7L271.2 267.2L272.6 258.8L268.3 254.5Z" fill="#ffc000" stroke="#000" stroke-width="1"/><path d="M227.4 227.7L233.0 220.6L235.9 217.8L238.7 222.0L242.9 222.0L237.3 226.3L231.6 230.5Z" fill="#ffe000" stroke="#000" stroke-width="0.8"/><path d="M228.8 306.7L234.5 302.5L240.1 303.9L238.7 307.5L233.0 308.9Z" fill="#ffe000" stroke="#000" stroke-width="0.8"/><path d="M292.3 271.5L294.5 270.0L295.9 274.3L294.5 276.4Z" fill="#ffe000" stroke="#000" stroke-width="0.8"/><ellipse cx="311.4" cy="284.9" rx="7.5" ry="7" fill="#ff7a00" stroke="#000" stroke-width="1"/><ellipse cx="311.4" cy="285.4" rx="4.5" ry="5" fill="#dd1a10" stroke="#000" stroke-width="0.8"/><path d="M276.8 299.7L285.3 295.5L292.3 299.7L290.9 305.3L282.5 306.7Z" fill="#c4c4c4" stroke="#000" stroke-width="0.8"/><path d="M309.3 305.3L313.5 301.1L314.9 308.2L312.1 316.6L308.6 315.2Z" fill="#c4c4c4" stroke="#000" stroke-width="0.8"/><path d="M264.1 322.3L269.8 311.0L274.0 306.7L272.6 316.6L266.9 326.5Z" fill="#c4c4c4" stroke="#000" stroke-width="0.8"/><path d="M326.8 338.1L338.1 329.0L349.4 322.2L362.9 315.5L372.0 307.6L380.0 301.9L380.0 371.9L366.3 383.2L358.4 400.2L349.4 411.5L338.1 414.8L326.8 414.8L320.0 410.3L326.8 394.5L329.1 377.6L330.2 360.6L327.9 349.3Z" fill="#3a5aee"/><path d="M331.3 377.6L340.4 369.7L351.7 371.9L356.2 388.9L349.4 400.2L338.1 400.2L331.3 392.3Z" fill="#1f2fe0" filter="url(#blur3)"/><path d="M367.0 366.8L369.9 352.6L372.7 334.3L375.5 318.8L381.2 311.7L389.6 308.9L398.1 314.5L399.5 324.4L396.7 334.3L391.0 345.6L384.0 352.6L375.5 361.1L367.0 372.4L364.2 373.8Z" fill="#ffd000" stroke="#000" stroke-width="1"/><path d="M372.7 345.6L375.5 327.2L381.2 315.9L389.6 313.1L395.3 320.2L392.5 335.7L385.4 347.0L376.9 355.5Z" fill="#ff9a00"/><path d="M338.1 349.3L342.6 346.0L347.1 349.3L344.9 353.9L340.4 353.9Z" fill="#ffe000" stroke="#000" stroke-width="0.8"/><path d="M335.8 390.0L338.1 388.9L340.4 394.5L338.1 396.8Z" fill="#ffe000" stroke="#000" stroke-width="0.8"/><path d="M347.1 371.9L351.7 369.7L353.9 374.2L349.4 377.6Z" fill="#c4c4c4" stroke="#000" stroke-width="0.8"/><path d="M319.1 411.9L327.5 409.1L341.6 414.8L352.9 410.5L357.2 420.4L347.3 423.2L331.8 421.8Z" fill="#90d090"/><path d="M148.6 477.6L156.5 468.1L166.0 457.0L175.5 446.0L189.7 433.3L202.4 422.2L211.9 411.2L216.6 403.3L224.5 404.8L224.5 422.2L218.2 433.3L211.9 444.4L207.1 453.9L202.4 464.9L196.0 472.8L189.7 480.7L181.8 491.8L177.1 498.1L170.8 498.1Z" fill="#4f7ef0"/><path d="M151.8 479.2L158.1 474.4L167.6 461.8L177.1 452.3L186.6 441.2L197.6 430.1L207.1 422.2L213.4 412.8L217.4 404.8L221.3 404.8L222.1 412.8L218.2 422.2L211.9 431.7L207.1 442.8L202.4 450.7L197.6 460.2L192.9 469.7L183.4 479.2L173.9 485.5L169.2 490.2L162.8 490.2Z" fill="#ff8a00" stroke="#000" stroke-width="1"/><path d="M158.1 479.2L167.6 466.5L178.7 455.4L189.7 442.8L200.8 433.3L210.3 422.2L205.5 434.9L199.2 447.5L191.3 460.2L181.8 469.7L170.8 479.2Z" fill="#f04010" stroke="#000" stroke-width="0.8"/><path d="M12.6 398.5L31.6 403.3L55.3 415.9L79.1 419.1L102.8 422.2L110.7 431.7L94.9 438.1L71.1 433.3L55.3 425.4L31.6 411.2L12.6 404.8Z" fill="#7fa8e0" filter="url(#blur2)"/><path d="M451.7 447.2L465.9 443.0L485.6 440.2L485.6 549.0L454.6 549.0L451.7 510.7L448.9 482.5Z" fill="#98c8a8"/><path d="M465.9 517.8L485.6 510.7L485.6 549.0L463.0 549.0Z" fill="#4a78f0"/><path d="M477.2 539.0L485.6 533.3L485.6 549.0L478.6 549.0Z" fill="#ffb000"/><path d="M467.3 458.5L474.3 457.1L480.0 465.6L477.2 469.8L470.1 465.6Z" fill="#ffd000" stroke="#000" stroke-width="0.8"/><path d="M361.4 459.9L369.9 440.2L381.2 426.0L395.3 419.0L409.4 426.0L416.5 434.5L402.3 447.2L392.5 457.1L381.2 461.3L369.9 465.6Z" fill="#a8c0d8" filter="url(#blur2)"/><path d="M381.2 452.9L385.4 450.0L389.6 454.3L386.8 458.5L381.9 457.8Z" fill="#1f2fe0"/><path d="M368.5 482.5L374.1 481.1L378.3 485.3L376.9 488.2L371.3 487.5Z" fill="#ff6a00" stroke="#000" stroke-width="0.8"/><path d="M66.9 262.4L75.0 270.5L87.2 264.4L96.4 263.4L109.6 261.4L111.6 267.5L107.6 274.6L101.5 277.6L93.3 279.7L85.2 286.8L79.1 283.7L71.0 281.7L66.9 285.8L60.8 289.8L57.8 293.9L55.7 286.8L62.9 280.7L68.9 277.6L72.0 272.5Z" fill="#84d684" stroke="#000" stroke-width="1" stroke-linejoin="round"/><path d="M73.0 271.5L81.1 269.5L89.3 268.5L87.2 275.6L79.1 277.6Z" fill="#a0ccf8" stroke="#000" stroke-width="1" stroke-linejoin="round"/><path d="M39.5 283.7L46.6 288.8L50.7 289.8L46.6 292.4L40.5 288.3Z" fill="#8ccc9c" stroke="#000" stroke-width="1" stroke-linejoin="round"/><path d="M54.7 304.0L60.8 310.1L62.9 318.3L58.8 328.4L57.8 338.6L58.8 350.8L62.9 361.0L66.9 371.1L72.0 384.3L70.0 386.4L62.9 374.2L57.8 363.0L52.7 350.8L51.7 340.6L53.7 328.4L54.7 316.2Z" fill="#5a86f0" stroke="#000" stroke-width="1" stroke-linejoin="round"/><path d="M56.8 305.1L66.9 310.1L73.0 316.2L81.1 323.4L85.2 328.4L75.0 325.4L66.9 323.4L60.8 325.4L57.8 316.2Z" fill="#86c8a8" stroke="#000" stroke-width="1" stroke-linejoin="round"/><path d="M13.0 387.4L30.3 391.5L40.5 397.6L52.7 401.6L62.9 403.7L58.8 407.7L40.5 403.7L30.3 405.7L20.2 401.6L13.0 398.6Z" fill="#84d08c" stroke="#000" stroke-width="1" stroke-linejoin="round"/><path d="M98.4 387.4L111.6 386.4L126.9 387.4L116.7 391.5L111.6 397.6L103.5 394.5Z" fill="#8cc8c0" stroke="#000" stroke-width="1" stroke-linejoin="round"/><path d="M99.4 406.7L111.6 405.7L126.9 409.7L121.8 412.8L106.6 413.8L99.4 411.8Z" fill="#84d08c" stroke="#000" stroke-width="1" stroke-linejoin="round"/><path d="M142.1 411.8L157.4 409.7L172.6 410.8L162.5 413.8L147.2 413.8Z" fill="#84d08c" stroke="#000" stroke-width="1" stroke-linejoin="round"/><path d="M174.7 395.5L182.8 391.5L190.0 389.4L190.0 399.6L182.8 398.6Z" fill="#7ab0e8" stroke="#000" stroke-width="1" stroke-linejoin="round"/><path d="M88.3 306.1L99.4 305.1L101.5 310.1L99.4 320.3L93.3 321.3L90.3 314.2Z" fill="#8cc8b0" stroke="#000" stroke-width="1" stroke-linejoin="round"/><path d="M84.2 333.5L98.4 332.5L96.4 336.6L87.2 336.6Z" fill="#6a94f0" stroke="#000" stroke-width="1" stroke-linejoin="round"/><path d="M135.0 343.7L142.1 345.7L143.1 355.9L139.1 356.9L136.0 350.8Z" fill="#9ab0c0" stroke="#000" stroke-width="1" stroke-linejoin="round"/><path d="M82.2 378.2L85.2 379.3L89.3 389.4L93.3 391.5L90.3 392.5L85.2 388.4Z" fill="#84d08c" stroke="#000" stroke-width="1" stroke-linejoin="round"/><path d="M33.4 390.4L40.5 391.5L50.7 397.6L56.8 400.6L52.7 402.6L43.5 397.6L35.4 394.5Z" fill="#80b8e8" stroke="#000" stroke-width="1" stroke-linejoin="round"/><path d="M68.9 389.4L81.1 391.5L87.2 395.5L81.1 396.0L71.0 392.5Z" fill="#84d08c" stroke="#000" stroke-width="1" stroke-linejoin="round"/><path d="M129.9 257.3L138.1 254.2L136.0 259.3L130.9 261.4Z" fill="#84d08c" stroke="#000" stroke-width="1" stroke-linejoin="round"/><path d="M137.0 265.4L145.2 263.4L147.2 269.5L143.1 271.5Z" fill="#84d08c" stroke="#000" stroke-width="1" stroke-linejoin="round"/><path d="M15.1 295.9L20.2 295.9L19.1 305.1L16.1 305.1Z" fill="#7ab0e8" stroke="#000" stroke-width="1" stroke-linejoin="round"/><path d="M15.1 310.1L23.2 308.1L25.2 312.2L18.1 320.3L14.1 320.3Z" fill="#84d08c" stroke="#000" stroke-width="1" stroke-linejoin="round"/><path d="M29.3 310.1L39.5 308.1L36.4 312.2L31.3 313.2Z" fill="#8cc8b0" stroke="#000" stroke-width="1" stroke-linejoin="round"/><path d="M182.8 345.7L188.9 344.7L187.9 348.8L182.8 349.3Z" fill="#84d08c" stroke="#000" stroke-width="1" stroke-linejoin="round"/><path d="M82.2 378.0L88.5 384.3L91.7 390.6L85.4 389.0Z" fill="#84d08c" stroke="#000" stroke-width="1" stroke-linejoin="round"/><path d="M94.9 382.7L104.3 384.3L101.2 387.5Z" fill="#84d08c" stroke="#000" stroke-width="1" stroke-linejoin="round"/><path d="M98.0 392.2L110.7 389.0L126.5 387.5L118.6 393.8L110.7 398.5L101.2 396.9Z" fill="#8cc8b8" stroke="#000" stroke-width="1" stroke-linejoin="round"/><path d="M85.4 398.5L98.0 399.3L96.4 401.7L87.0 401.4Z" fill="#7ab0e8" stroke="#000" stroke-width="1" stroke-linejoin="round"/><path d="M98.0 409.6L110.7 406.4L126.5 409.6L124.9 414.3L110.7 412.8L101.2 412.8Z" fill="#8cc8b0" stroke="#000" stroke-width="1" stroke-linejoin="round"/><path d="M72.7 428.6L88.5 425.4L102.8 430.1L101.2 436.5L88.5 433.3L75.9 433.3Z" fill="#84d08c" stroke="#000" stroke-width="1" stroke-linejoin="round"/><path d="M123.3 423.8L142.3 422.2L151.8 425.4L142.3 428.6L126.5 427.0Z" fill="#84d08c" stroke="#000" stroke-width="1" stroke-linejoin="round"/><path d="M126.5 434.9L142.3 430.1L150.2 433.3L139.1 439.6L131.2 438.1Z" fill="#80b8e8" stroke="#000" stroke-width="1" stroke-linejoin="round"/><path d="M142.3 408.0L158.1 408.0L167.6 411.2L158.1 413.5L145.5 412.8Z" fill="#84d08c" stroke="#000" stroke-width="1" stroke-linejoin="round"/><path d="M145.5 446.0L158.1 444.4L164.4 446.7L154.9 449.1L147.0 449.1Z" fill="#6a94f0" stroke="#000" stroke-width="1" stroke-linejoin="round"/><path d="M120.2 453.9L129.6 449.1L136.0 447.5L136.0 460.2L129.6 461.8L123.3 458.6Z" fill="#80b8e8" stroke="#000" stroke-width="1" stroke-linejoin="round"/><path d="M173.9 395.4L189.7 390.6L204.0 396.9L196.0 398.5L181.8 398.5Z" fill="#6a94f0" stroke="#000" stroke-width="1" stroke-linejoin="round"/><path d="M170.8 423.8L177.1 414.3L186.6 409.6L196.0 411.2L189.7 419.1L181.8 425.4L173.9 433.3L167.6 434.9Z" fill="#6a94f0" stroke="#000" stroke-width="1" stroke-linejoin="round"/></g></g>
<use href="#grid"/>
<use href="#swath"/>
<use href="#coast"/>
<use href="#glabels"/>
<use href="#marker"/>
<text x="37.8" y="65.6" font-size="25">VIRS T</text><text x="116.6" y="71.5" font-size="13.8">B11</text><text x="151.8" y="65.6" font-size="25">(K)</text>
<text x="438.1" y="523.2" font-size="30">(g)</text>
<use href="#cbA"/>
<text x="524.6" y="556.56" font-size="20" text-anchor="middle">304</text>
<text x="524.6" y="505.81" font-size="20" text-anchor="middle">292</text>
<text x="524.6" y="455.07" font-size="20" text-anchor="middle">280</text>
<text x="524.6" y="404.32" font-size="20" text-anchor="middle">268</text>
<text x="524.6" y="353.57" font-size="20" text-anchor="middle">256</text>
<text x="524.6" y="302.83" font-size="20" text-anchor="middle">244</text>
<text x="524.6" y="252.08" font-size="20" text-anchor="middle">232</text>
<text x="524.6" y="201.34" font-size="20" text-anchor="middle">220</text>
<text x="524.6" y="150.59" font-size="20" text-anchor="middle">208</text>
<text x="524.6" y="99.85" font-size="20" text-anchor="middle">196</text>
</g>
<g transform="translate(590.5 1181)">
<g clip-path="url(#mapclip)"><rect x="228.5" y="320.4" width="1.6" height="1.6" fill="#ff4400"/><rect x="230.0" y="325.2" width="1.6" height="1.6" fill="#0000ee"/><rect x="221.4" y="316.2" width="1.6" height="1.6" fill="#0000ff"/><rect x="235.5" y="325.6" width="1.6" height="1.6" fill="#0000ff"/><rect x="224.5" y="320.4" width="1.6" height="1.6" fill="#ff4400"/><rect x="228.5" y="325.4" width="1.6" height="1.6" fill="#0000ff"/><rect x="229.8" y="325.5" width="1.6" height="1.6" fill="#ff4400"/><rect x="232.9" y="324.6" width="1.6" height="1.6" fill="#0000ff"/><rect x="222.9" y="318.1" width="1.6" height="1.6" fill="#ff4400"/><rect x="221.0" y="318.3" width="1.6" height="1.6" fill="#0000ff"/><rect x="225.8" y="321.4" width="1.6" height="1.6" fill="#0000ff"/><rect x="233.2" y="326.2" width="1.6" height="1.6" fill="#ff4400"/><rect x="226.4" y="321.0" width="1.6" height="1.6" fill="#ff4400"/><rect x="226.6" y="323.4" width="1.6" height="1.6" fill="#0000ee"/><rect x="221.3" y="316.6" width="1.6" height="1.6" fill="#ff4400"/><rect x="229.5" y="322.2" width="1.6" height="1.6" fill="#ff4400"/><rect x="221.8" y="318.4" width="1.6" height="1.6" fill="#ff4400"/><rect x="222.5" y="320.7" width="1.6" height="1.6" fill="#0000ee"/><rect x="219.8" y="316.7" width="1.6" height="1.6" fill="#0000ff"/><rect x="229.5" y="324.3" width="1.6" height="1.6" fill="#0000ee"/><rect x="228.3" y="321.8" width="1.6" height="1.6" fill="#ff4400"/><rect x="232.6" y="324.0" width="1.6" height="1.6" fill="#0000ff"/><rect x="226.6" y="319.9" width="1.6" height="1.6" fill="#0000ff"/><rect x="219.9" y="317.9" width="1.6" height="1.6" fill="#0000ff"/><rect x="223.2" y="321.5" width="1.6" height="1.6" fill="#ff4400"/><rect x="234.0" y="324.7" width="1.6" height="1.6" fill="#ff4400"/><rect x="228.6" y="320.3" width="1.6" height="1.6" fill="#0000ee"/><rect x="227.8" y="321.3" width="1.6" height="1.6" fill="#ff4400"/><ellipse cx="208.0" cy="344.0" rx="0.8" ry="0.8" fill="#0000ff" transform="rotate(0 208.0 344.0)"/><ellipse cx="222.0" cy="354.0" rx="1.5" ry="0.8" fill="#ff4400" transform="rotate(0 222.0 354.0)"/><ellipse cx="228.0" cy="355.0" rx="1.5" ry="0.8" fill="#ff4400" transform="rotate(0 228.0 355.0)"/><ellipse cx="325.4" cy="384.7" rx="0.9" ry="0.9" fill="#ff4400" transform="rotate(0 325.4 384.7)"/><rect x="324.8" y="406.5" width="1.6" height="1.6" fill="#0000ff"/><rect x="327.9" y="397.4" width="1.6" height="1.6" fill="#0000ee"/><rect x="329.4" y="396.0" width="1.6" height="1.6" fill="#ff4400"/><rect x="325.6" y="402.6" width="1.6" height="1.6" fill="#ff4400"/><rect x="330.2" y="394.8" width="1.6" height="1.6" fill="#0000ff"/><rect x="328.3" y="400.8" width="1.6" height="1.6" fill="#0000ff"/><rect x="324.5" y="402.2" width="1.6" height="1.6" fill="#ff4400"/><rect x="325.3" y="406.0" width="1.6" height="1.6" fill="#ff4400"/><rect x="323.7" y="405.6" width="1.6" height="1.6" fill="#0000ff"/><rect x="324.8" y="403.6" width="1.6" height="1.6" fill="#ff4400"/><rect x="323.7" y="404.3" width="1.6" height="1.6" fill="#ff4400"/><rect x="324.8" y="405.2" width="1.6" height="1.6" fill="#ff4400"/><rect x="323.9" y="413.6" width="1.6" height="1.6" fill="#ff4400"/><rect x="321.4" y="411.8" width="1.6" height="1.6" fill="#ff4400"/><rect x="321.9" y="410.4" width="1.6" height="1.6" fill="#0000ff"/><rect x="318.9" y="411.5" width="1.6" height="1.6" fill="#ff4400"/><rect x="316.4" y="413.7" width="1.6" height="1.6" fill="#0000ff"/><rect x="323.6" y="413.6" width="1.6" height="1.6" fill="#ff4400"/><rect x="321.6" y="416.2" width="1.6" height="1.6" fill="#ff4400"/><rect x="321.1" y="413.6" width="1.6" height="1.6" fill="#ff4400"/><rect x="317.7" y="412.4" width="1.6" height="1.6" fill="#0000ff"/><rect x="322.4" y="413.4" width="1.6" height="1.6" fill="#ff4400"/><rect x="317.7" y="410.6" width="1.6" height="1.6" fill="#ff4400"/><rect x="322.1" y="412.2" width="1.6" height="1.6" fill="#0000ff"/><ellipse cx="318.0" cy="424.0" rx="1.5" ry="1.5" fill="#ff4400" transform="rotate(0 318.0 424.0)"/><ellipse cx="329.0" cy="418.0" rx="1.0" ry="1.0" fill="#0000ff" transform="rotate(0 329.0 418.0)"/><ellipse cx="335.0" cy="418.0" rx="1.2" ry="1.0" fill="#ff4400" transform="rotate(0 335.0 418.0)"/><ellipse cx="329.0" cy="428.0" rx="1.5" ry="1.0" fill="#ff4400" transform="rotate(0 329.0 428.0)"/><ellipse cx="337.0" cy="411.0" rx="0.9" ry="0.9" fill="#0000ff" transform="rotate(0 337.0 411.0)"/><ellipse cx="315.0" cy="398.0" rx="1.0" ry="0.8" fill="#ff4400" transform="rotate(0 315.0 398.0)"/><rect x="368.9" y="421.5" width="1.6" height="1.6" fill="#0000ee"/><rect x="369.1" y="420.2" width="1.6" height="1.6" fill="#0000ff"/><rect x="367.1" y="423.5" width="1.6" height="1.6" fill="#0000ff"/><rect x="367.8" y="424.8" width="1.6" height="1.6" fill="#ff4400"/><rect x="368.3" y="421.3" width="1.6" height="1.6" fill="#0000ff"/><rect x="371.1" y="424.0" width="1.6" height="1.6" fill="#ff4400"/><ellipse cx="387.3" cy="452.5" rx="1.0" ry="1.0" fill="#0000ff" transform="rotate(0 387.3 452.5)"/><ellipse cx="370.0" cy="472.3" rx="0.9" ry="0.9" fill="#ff4400" transform="rotate(0 370.0 472.3)"/><ellipse cx="421.7" cy="477.0" rx="0.9" ry="0.9" fill="#ff4400" transform="rotate(0 421.7 477.0)"/><rect x="380.7" y="486.5" width="1.6" height="1.6" fill="#ff4400"/><rect x="377.7" y="483.9" width="1.6" height="1.6" fill="#ff4400"/><rect x="377.8" y="489.8" width="1.6" height="1.6" fill="#0000ee"/><rect x="374.2" y="485.7" width="1.6" height="1.6" fill="#0000ff"/><rect x="378.5" y="487.3" width="1.6" height="1.6" fill="#ff4400"/><rect x="375.5" y="492.7" width="1.6" height="1.6" fill="#0000ff"/><rect x="376.4" y="487.5" width="1.6" height="1.6" fill="#ff4400"/><rect x="376.8" y="490.2" width="1.6" height="1.6" fill="#ff4400"/><rect x="378.2" y="492.1" width="1.6" height="1.6" fill="#ff4400"/><rect x="378.4" y="493.2" width="1.6" height="1.6" fill="#ff4400"/><rect x="375.9" y="491.7" width="1.6" height="1.6" fill="#0000ff"/><rect x="378.0" y="486.5" width="1.6" height="1.6" fill="#ff4400"/><rect x="373.7" y="488.2" width="1.6" height="1.6" fill="#ff4400"/><rect x="377.3" y="490.8" width="1.6" height="1.6" fill="#ff4400"/><rect x="374.8" y="491.3" width="1.6" height="1.6" fill="#ff4400"/><rect x="375.5" y="482.2" width="1.6" height="1.6" fill="#0000ff"/><rect x="377.4" y="494.1" width="1.6" height="1.6" fill="#ff4400"/><rect x="376.8" y="481.3" width="1.6" height="1.6" fill="#ff4400"/><rect x="375.1" y="494.2" width="1.6" height="1.6" fill="#0000ff"/><rect x="380.5" y="482.3" width="1.6" height="1.6" fill="#ff4400"/><rect x="380.3" y="483.9" width="1.6" height="1.6" fill="#0000ff"/><rect x="377.6" y="484.3" width="1.6" height="1.6" fill="#ff4400"/><rect x="377.6" y="491.9" width="1.6" height="1.6" fill="#0000ee"/><ellipse cx="410.7" cy="495.0" rx="0.9" ry="0.9" fill="#0000ff" transform="rotate(0 410.7 495.0)"/><ellipse cx="390.0" cy="509.7" rx="2.0" ry="2.0" fill="#ff4400" transform="rotate(0 390.0 509.7)"/><ellipse cx="478.5" cy="481.0" rx="3.5" ry="1.3" fill="#ff4400" transform="rotate(30 478.5 481.0)"/><rect x="478.3" y="495.4" width="1.6" height="1.6" fill="#0000ff"/><rect x="477.8" y="490.7" width="1.6" height="1.6" fill="#ff4400"/><rect x="477.8" y="491.2" width="1.6" height="1.6" fill="#0000ff"/><rect x="480.8" y="494.2" width="1.6" height="1.6" fill="#0000ee"/><rect x="483.8" y="493.8" width="1.6" height="1.6" fill="#ff4400"/><rect x="478.5" y="490.9" width="1.6" height="1.6" fill="#0000ee"/><rect x="480.9" y="493.1" width="1.6" height="1.6" fill="#ff4400"/><rect x="484.1" y="492.4" width="1.6" height="1.6" fill="#ff4400"/><rect x="479.4" y="490.2" width="1.6" height="1.6" fill="#0000ff"/><rect x="477.6" y="490.7" width="1.6" height="1.6" fill="#ff4400"/><rect x="482.7" y="497.9" width="1.6" height="1.6" fill="#0000ee"/><rect x="478.6" y="493.1" width="1.6" height="1.6" fill="#0000ff"/><rect x="476.7" y="494.0" width="1.6" height="1.6" fill="#0000ee"/><rect x="478.1" y="490.1" width="1.6" height="1.6" fill="#0000ee"/><rect x="481.0" y="490.8" width="1.6" height="1.6" fill="#ff4400"/><rect x="479.7" y="492.4" width="1.6" height="1.6" fill="#0000ff"/><rect x="481.5" y="496.7" width="1.6" height="1.6" fill="#0000ee"/><rect x="481.7" y="497.7" width="1.6" height="1.6" fill="#0000ff"/><rect x="483.0" y="491.4" width="1.6" height="1.6" fill="#0000ee"/><rect x="481.7" y="494.2" width="1.6" height="1.6" fill="#0000ee"/><ellipse cx="479.0" cy="507.0" rx="2.0" ry="3.0" fill="#ff4400" transform="rotate(0 479.0 507.0)"/><ellipse cx="481.0" cy="514.0" rx="1.5" ry="3.0" fill="#ff4400" transform="rotate(20 481.0 514.0)"/><ellipse cx="476.0" cy="516.0" rx="2.0" ry="1.5" fill="#0000ff" transform="rotate(0 476.0 516.0)"/><ellipse cx="480.0" cy="520.0" rx="2.0" ry="2.0" fill="#ff4400" transform="rotate(0 480.0 520.0)"/><rect x="475.4" y="532.7" width="1.6" height="1.6" fill="#ff4400"/><rect x="482.0" y="526.0" width="1.6" height="1.6" fill="#ff4400"/><rect x="477.1" y="524.0" width="1.6" height="1.6" fill="#0000ee"/><rect x="473.4" y="531.1" width="1.6" height="1.6" fill="#0000ff"/><rect x="482.8" y="531.1" width="1.6" height="1.6" fill="#ff4400"/><rect x="480.6" y="526.5" width="1.6" height="1.6" fill="#ff4400"/><rect x="479.3" y="530.6" width="1.6" height="1.6" fill="#0000ee"/><rect x="479.7" y="524.3" width="1.6" height="1.6" fill="#0000ff"/><rect x="481.8" y="528.2" width="1.6" height="1.6" fill="#ff4400"/><rect x="483.8" y="529.2" width="1.6" height="1.6" fill="#ff4400"/><rect x="476.4" y="527.6" width="1.6" height="1.6" fill="#0000ff"/><rect x="478.2" y="528.0" width="1.6" height="1.6" fill="#ff4400"/><rect x="480.7" y="531.0" width="1.6" height="1.6" fill="#0000ee"/><rect x="476.2" y="524.8" width="1.6" height="1.6" fill="#ff4400"/><rect x="470.5" y="528.6" width="1.6" height="1.6" fill="#0000ff"/><rect x="478.6" y="524.1" width="1.6" height="1.6" fill="#ff4400"/><rect x="475.5" y="530.5" width="1.6" height="1.6" fill="#ff4400"/><rect x="470.8" y="528.8" width="1.6" height="1.6" fill="#0000ff"/><rect x="477.1" y="530.5" width="1.6" height="1.6" fill="#0000ff"/><rect x="482.6" y="531.1" width="1.6" height="1.6" fill="#0000ee"/><rect x="476.5" y="529.1" width="1.6" height="1.6" fill="#0000ff"/><rect x="481.5" y="526.4" width="1.6" height="1.6" fill="#0000ee"/><rect x="471.7" y="531.1" width="1.6" height="1.6" fill="#0000ff"/><rect x="471.1" y="527.4" width="1.6" height="1.6" fill="#ff4400"/><rect x="477.1" y="526.6" width="1.6" height="1.6" fill="#0000ee"/><rect x="474.2" y="529.5" width="1.6" height="1.6" fill="#0000ff"/><rect x="473.4" y="524.4" width="1.6" height="1.6" fill="#ff4400"/><rect x="477.0" y="527.3" width="1.6" height="1.6" fill="#0000ee"/><rect x="472.4" y="528.3" width="1.6" height="1.6" fill="#ff4400"/><rect x="477.2" y="525.3" width="1.6" height="1.6" fill="#ff4400"/><rect x="476.3" y="528.1" width="1.6" height="1.6" fill="#ff4400"/></g>
<use href="#grid"/>
<use href="#swath"/>
<use href="#coast"/>
<use href="#glabels"/>
<use href="#marker"/>
<text x="35.86" y="65.9" font-size="25.5" textLength="173.82" lengthAdjust="spacingAndGlyphs">2A23 rain types</text>
<text x="438.1" y="523.2" font-size="30">(h)</text>
<rect x="494.9" y="40.8" width="9.4" height="169.03" fill="#ff4400"/>
<rect x="494.9" y="209.83" width="9.4" height="169.03" fill="#0000ff"/>
<rect x="494.9" y="378.87" width="9.4" height="169.03" fill="#ffffff"/>
<rect x="494.9" y="40.8" width="9.4" height="507.1" fill="none" stroke="#222" stroke-width="0.6"/>
<line x1="504.3" x2="506" y1="40.8" y2="40.8" stroke="#333" stroke-width="1"/>
<text x="507.4" y="48.3" font-size="20">Conv</text>
<line x1="504.3" x2="506" y1="209.83" y2="209.83" stroke="#333" stroke-width="1"/>
<text x="507.4" y="217.33" font-size="20">Strat</text>
<line x1="504.3" x2="506" y1="378.87" y2="378.87" stroke="#333" stroke-width="1"/>
<text x="507.4" y="386.37" font-size="20">N/A</text>
</g>
<g transform="translate(1181 1181)">
<g clip-path="url(#mapclip)"><rect x="230.1" y="323.9" width="1.6" height="1.6" fill="#90d090"/><rect x="232.5" y="325.4" width="1.6" height="1.6" fill="#90d090"/><rect x="224.5" y="317.9" width="1.6" height="1.6" fill="#a0a0a0"/><rect x="229.7" y="320.3" width="1.6" height="1.6" fill="#c8c8c8"/><rect x="224.5" y="322.0" width="1.6" height="1.6" fill="#b8b8b8"/><rect x="228.4" y="322.3" width="1.6" height="1.6" fill="#a0a0a0"/><rect x="226.3" y="324.0" width="1.6" height="1.6" fill="#b8b8b8"/><rect x="220.8" y="318.5" width="1.6" height="1.6" fill="#a0a0a0"/><rect x="225.6" y="322.5" width="1.6" height="1.6" fill="#a0a0a0"/><rect x="226.5" y="322.8" width="1.6" height="1.6" fill="#90d090"/><rect x="227.7" y="324.3" width="1.6" height="1.6" fill="#88b8e8"/><rect x="225.8" y="320.0" width="1.6" height="1.6" fill="#90d090"/><rect x="228.9" y="325.9" width="1.6" height="1.6" fill="#88b8e8"/><rect x="224.8" y="323.3" width="1.6" height="1.6" fill="#a0a0a0"/><rect x="227.5" y="322.0" width="1.6" height="1.6" fill="#c8c8c8"/><rect x="224.9" y="323.4" width="1.6" height="1.6" fill="#b8b8b8"/><rect x="234.3" y="327.3" width="1.6" height="1.6" fill="#b8b8b8"/><rect x="224.1" y="320.0" width="1.6" height="1.6" fill="#c8c8c8"/><rect x="221.8" y="318.3" width="1.6" height="1.6" fill="#88b8e8"/><rect x="228.0" y="323.5" width="1.6" height="1.6" fill="#b8b8b8"/><rect x="233.3" y="323.3" width="1.6" height="1.6" fill="#88b8e8"/><rect x="223.7" y="320.5" width="1.6" height="1.6" fill="#b8b8b8"/><rect x="230.7" y="322.0" width="1.6" height="1.6" fill="#c8c8c8"/><rect x="227.2" y="322.4" width="1.6" height="1.6" fill="#88b8e8"/><rect x="226.7" y="322.9" width="1.6" height="1.6" fill="#c8c8c8"/><rect x="232.9" y="324.4" width="1.6" height="1.6" fill="#88b8e8"/><rect x="232.7" y="326.5" width="1.6" height="1.6" fill="#a0a0a0"/><rect x="225.3" y="320.9" width="1.6" height="1.6" fill="#a0a0a0"/><ellipse cx="208.0" cy="344.0" rx="0.8" ry="0.8" fill="#90d090" transform="rotate(0 208.0 344.0)"/><ellipse cx="222.0" cy="354.0" rx="1.5" ry="0.8" fill="#a8a8a8" transform="rotate(0 222.0 354.0)"/><ellipse cx="228.0" cy="355.0" rx="1.5" ry="0.8" fill="#a8a8a8" transform="rotate(0 228.0 355.0)"/><ellipse cx="325.4" cy="384.7" rx="0.9" ry="0.9" fill="#999999" transform="rotate(0 325.4 384.7)"/><rect x="328.7" y="397.5" width="1.6" height="1.6" fill="#88b8e8"/><rect x="330.0" y="397.8" width="1.6" height="1.6" fill="#c8c8c8"/><rect x="327.9" y="400.0" width="1.6" height="1.6" fill="#b8b8b8"/><rect x="327.9" y="399.9" width="1.6" height="1.6" fill="#a0a0a0"/><rect x="326.4" y="403.6" width="1.6" height="1.6" fill="#c8c8c8"/><rect x="324.7" y="402.4" width="1.6" height="1.6" fill="#c8c8c8"/><rect x="330.5" y="395.0" width="1.6" height="1.6" fill="#88b8e8"/><rect x="325.1" y="402.2" width="1.6" height="1.6" fill="#b8b8b8"/><rect x="326.1" y="403.4" width="1.6" height="1.6" fill="#90d090"/><rect x="327.2" y="400.9" width="1.6" height="1.6" fill="#90d090"/><rect x="327.1" y="399.4" width="1.6" height="1.6" fill="#b8b8b8"/><rect x="327.0" y="398.6" width="1.6" height="1.6" fill="#c8c8c8"/><rect x="319.2" y="416.1" width="1.6" height="1.6" fill="#c8c8c8"/><rect x="318.9" y="410.0" width="1.6" height="1.6" fill="#a0a0a0"/><rect x="317.5" y="414.2" width="1.6" height="1.6" fill="#a0a0a0"/><rect x="318.2" y="412.1" width="1.6" height="1.6" fill="#90d090"/><rect x="317.3" y="415.4" width="1.6" height="1.6" fill="#88b8e8"/><rect x="320.0" y="413.5" width="1.6" height="1.6" fill="#c8c8c8"/><rect x="318.7" y="414.5" width="1.6" height="1.6" fill="#90d090"/><rect x="320.4" y="416.3" width="1.6" height="1.6" fill="#88b8e8"/><rect x="318.8" y="410.9" width="1.6" height="1.6" fill="#a0a0a0"/><rect x="319.7" y="415.5" width="1.6" height="1.6" fill="#90d090"/><rect x="323.0" y="415.1" width="1.6" height="1.6" fill="#88b8e8"/><rect x="321.4" y="411.5" width="1.6" height="1.6" fill="#b8b8b8"/><ellipse cx="318.0" cy="424.0" rx="1.5" ry="1.5" fill="#a8a8a8" transform="rotate(0 318.0 424.0)"/><ellipse cx="329.0" cy="418.0" rx="1.0" ry="1.0" fill="#90d090" transform="rotate(0 329.0 418.0)"/><ellipse cx="335.0" cy="418.0" rx="1.2" ry="1.0" fill="#999999" transform="rotate(0 335.0 418.0)"/><ellipse cx="329.0" cy="428.0" rx="1.5" ry="1.0" fill="#a8a8a8" transform="rotate(0 329.0 428.0)"/><ellipse cx="337.0" cy="411.0" rx="0.9" ry="0.9" fill="#90d090" transform="rotate(0 337.0 411.0)"/><ellipse cx="315.0" cy="398.0" rx="1.0" ry="0.8" fill="#a8a8a8" transform="rotate(0 315.0 398.0)"/><rect x="371.6" y="422.4" width="1.6" height="1.6" fill="#b8b8b8"/><rect x="370.1" y="425.2" width="1.6" height="1.6" fill="#a0a0a0"/><rect x="370.0" y="422.5" width="1.6" height="1.6" fill="#90d090"/><rect x="367.8" y="420.3" width="1.6" height="1.6" fill="#b8b8b8"/><rect x="369.7" y="421.5" width="1.6" height="1.6" fill="#c8c8c8"/><rect x="371.0" y="423.2" width="1.6" height="1.6" fill="#c8c8c8"/><ellipse cx="387.3" cy="452.5" rx="1.0" ry="1.0" fill="#90d090" transform="rotate(0 387.3 452.5)"/><ellipse cx="370.0" cy="472.3" rx="0.9" ry="0.9" fill="#a8a8a8" transform="rotate(0 370.0 472.3)"/><ellipse cx="421.7" cy="477.0" rx="0.9" ry="0.9" fill="#a8a8a8" transform="rotate(0 421.7 477.0)"/><rect x="375.2" y="488.1" width="1.6" height="1.6" fill="#c8c8c8"/><rect x="377.6" y="484.4" width="1.6" height="1.6" fill="#b8b8b8"/><rect x="376.6" y="487.8" width="1.6" height="1.6" fill="#a0a0a0"/><rect x="375.2" y="488.3" width="1.6" height="1.6" fill="#90d090"/><rect x="380.4" y="483.0" width="1.6" height="1.6" fill="#88b8e8"/><rect x="376.0" y="481.7" width="1.6" height="1.6" fill="#88b8e8"/><rect x="375.0" y="484.9" width="1.6" height="1.6" fill="#a0a0a0"/><rect x="375.2" y="486.2" width="1.6" height="1.6" fill="#a0a0a0"/><rect x="375.6" y="485.7" width="1.6" height="1.6" fill="#b8b8b8"/><rect x="374.7" y="483.9" width="1.6" height="1.6" fill="#90d090"/><rect x="374.4" y="485.0" width="1.6" height="1.6" fill="#90d090"/><rect x="375.6" y="482.6" width="1.6" height="1.6" fill="#a0a0a0"/><rect x="377.2" y="491.5" width="1.6" height="1.6" fill="#b8b8b8"/><rect x="377.9" y="490.1" width="1.6" height="1.6" fill="#c8c8c8"/><rect x="376.4" y="491.6" width="1.6" height="1.6" fill="#88b8e8"/><rect x="378.1" y="479.8" width="1.6" height="1.6" fill="#88b8e8"/><rect x="374.5" y="486.8" width="1.6" height="1.6" fill="#90d090"/><rect x="375.9" y="490.7" width="1.6" height="1.6" fill="#88b8e8"/><rect x="380.4" y="484.5" width="1.6" height="1.6" fill="#c8c8c8"/><rect x="375.5" y="492.4" width="1.6" height="1.6" fill="#90d090"/><rect x="380.4" y="486.4" width="1.6" height="1.6" fill="#c8c8c8"/><rect x="377.8" y="491.8" width="1.6" height="1.6" fill="#c8c8c8"/><rect x="377.8" y="480.9" width="1.6" height="1.6" fill="#b8b8b8"/><ellipse cx="410.7" cy="495.0" rx="0.9" ry="0.9" fill="#90d090" transform="rotate(0 410.7 495.0)"/><ellipse cx="390.0" cy="509.7" rx="2.0" ry="2.0" fill="#999999" transform="rotate(0 390.0 509.7)"/><ellipse cx="478.5" cy="481.0" rx="3.5" ry="1.3" fill="#999999" transform="rotate(30 478.5 481.0)"/><rect x="482.8" y="491.3" width="1.6" height="1.6" fill="#90d090"/><rect x="479.8" y="493.2" width="1.6" height="1.6" fill="#88b8e8"/><rect x="482.7" y="495.5" width="1.6" height="1.6" fill="#c8c8c8"/><rect x="480.4" y="491.0" width="1.6" height="1.6" fill="#c8c8c8"/><rect x="479.1" y="493.0" width="1.6" height="1.6" fill="#90d090"/><rect x="478.8" y="497.3" width="1.6" height="1.6" fill="#90d090"/><rect x="479.9" y="489.5" width="1.6" height="1.6" fill="#b8b8b8"/><rect x="483.4" y="493.7" width="1.6" height="1.6" fill="#a0a0a0"/><rect x="483.2" y="496.8" width="1.6" height="1.6" fill="#a0a0a0"/><rect x="478.0" y="492.6" width="1.6" height="1.6" fill="#b8b8b8"/><rect x="478.5" y="498.0" width="1.6" height="1.6" fill="#88b8e8"/><rect x="475.6" y="495.5" width="1.6" height="1.6" fill="#90d090"/><rect x="482.1" y="494.0" width="1.6" height="1.6" fill="#c8c8c8"/><rect x="483.8" y="494.6" width="1.6" height="1.6" fill="#88b8e8"/><rect x="476.8" y="496.9" width="1.6" height="1.6" fill="#b8b8b8"/><rect x="479.8" y="495.8" width="1.6" height="1.6" fill="#c8c8c8"/><rect x="480.2" y="498.6" width="1.6" height="1.6" fill="#a0a0a0"/><rect x="478.7" y="491.2" width="1.6" height="1.6" fill="#b8b8b8"/><rect x="482.3" y="493.1" width="1.6" height="1.6" fill="#88b8e8"/><rect x="479.7" y="498.7" width="1.6" height="1.6" fill="#88b8e8"/><ellipse cx="479.0" cy="507.0" rx="2.0" ry="3.0" fill="#a8a8a8" transform="rotate(0 479.0 507.0)"/><ellipse cx="481.0" cy="514.0" rx="1.5" ry="3.0" fill="#999999" transform="rotate(20 481.0 514.0)"/><ellipse cx="476.0" cy="516.0" rx="2.0" ry="1.5" fill="#90d090" transform="rotate(0 476.0 516.0)"/><ellipse cx="480.0" cy="520.0" rx="2.0" ry="2.0" fill="#a8a8a8" transform="rotate(0 480.0 520.0)"/><rect x="481.7" y="529.2" width="1.6" height="1.6" fill="#90d090"/><rect x="480.5" y="528.0" width="1.6" height="1.6" fill="#c8c8c8"/><rect x="482.6" y="527.4" width="1.6" height="1.6" fill="#88b8e8"/><rect x="483.5" y="528.4" width="1.6" height="1.6" fill="#c8c8c8"/><rect x="471.0" y="528.8" width="1.6" height="1.6" fill="#88b8e8"/><rect x="471.7" y="527.2" width="1.6" height="1.6" fill="#b8b8b8"/><rect x="479.8" y="526.8" width="1.6" height="1.6" fill="#c8c8c8"/><rect x="478.0" y="528.3" width="1.6" height="1.6" fill="#88b8e8"/><rect x="473.1" y="527.3" width="1.6" height="1.6" fill="#90d090"/><rect x="479.8" y="530.1" width="1.6" height="1.6" fill="#b8b8b8"/><rect x="474.9" y="528.9" width="1.6" height="1.6" fill="#a0a0a0"/><rect x="470.5" y="527.3" width="1.6" height="1.6" fill="#90d090"/><rect x="473.4" y="528.0" width="1.6" height="1.6" fill="#b8b8b8"/><rect x="480.6" y="527.0" width="1.6" height="1.6" fill="#a0a0a0"/><rect x="474.6" y="531.8" width="1.6" height="1.6" fill="#a0a0a0"/><rect x="477.1" y="523.6" width="1.6" height="1.6" fill="#90d090"/><rect x="477.3" y="523.4" width="1.6" height="1.6" fill="#88b8e8"/><rect x="473.4" y="531.7" width="1.6" height="1.6" fill="#c8c8c8"/><rect x="476.1" y="528.8" width="1.6" height="1.6" fill="#c8c8c8"/><rect x="479.5" y="528.3" width="1.6" height="1.6" fill="#90d090"/><rect x="475.6" y="523.6" width="1.6" height="1.6" fill="#a0a0a0"/><rect x="473.1" y="526.2" width="1.6" height="1.6" fill="#88b8e8"/><rect x="475.2" y="526.7" width="1.6" height="1.6" fill="#c8c8c8"/><rect x="473.9" y="526.1" width="1.6" height="1.6" fill="#90d090"/><rect x="481.1" y="525.0" width="1.6" height="1.6" fill="#c8c8c8"/><rect x="475.4" y="524.1" width="1.6" height="1.6" fill="#88b8e8"/><rect x="470.8" y="528.3" width="1.6" height="1.6" fill="#b8b8b8"/><rect x="473.8" y="531.2" width="1.6" height="1.6" fill="#b8b8b8"/><rect x="480.7" y="529.6" width="1.6" height="1.6" fill="#90d090"/><rect x="476.2" y="528.7" width="1.6" height="1.6" fill="#88b8e8"/><rect x="481.6" y="528.2" width="1.6" height="1.6" fill="#c8c8c8"/></g>
<use href="#grid"/>
<use href="#swath"/>
<use href="#coast"/>
<use href="#glabels"/>
<use href="#marker"/>
<text x="36.36" y="65.9" font-size="25.5" textLength="259.31" lengthAdjust="spacingAndGlyphs">2A23 storm height (km)</text>
<text x="438.1" y="523.2" font-size="30">(i)</text>
<use href="#cbA"/>
<text x="533" y="556.56" font-size="20" text-anchor="middle">0.0</text>
<text x="533" y="505.81" font-size="20" text-anchor="middle">2.0</text>
<text x="533" y="455.07" font-size="20" text-anchor="middle">4.0</text>
<text x="533" y="404.32" font-size="20" text-anchor="middle">6.0</text>
<text x="533" y="353.57" font-size="20" text-anchor="middle">8.0</text>
<text x="533" y="302.83" font-size="20" text-anchor="middle">10.0</text>
<text x="533" y="252.08" font-size="20" text-anchor="middle">12.0</text>
<text x="533" y="201.34" font-size="20" text-anchor="middle">14.0</text>
<text x="533" y="150.59" font-size="20" text-anchor="middle">16.0</text>
<text x="533" y="99.85" font-size="20" text-anchor="middle">18.0</text>
</g></svg>
</body></html>
